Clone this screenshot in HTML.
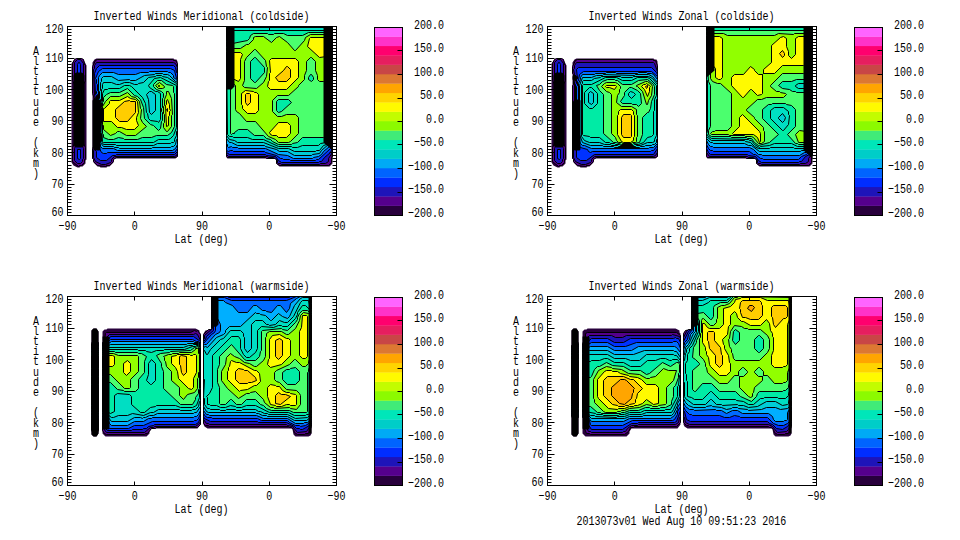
<!DOCTYPE html>
<html><head><meta charset="utf-8"><style>
html,body{margin:0;padding:0;background:#fff;width:960px;height:540px;overflow:hidden}
svg{display:block}
text{font-family:"Liberation Mono",monospace;font-size:13.3px;fill:#000}
</style></head><body>
<svg width="960" height="540" viewBox="0 0 960 540">
<rect width="960" height="540" fill="#fff"/>
<path d="M94.5 59.5L92.5 62.5L92.5 158.5L93.5 159.5L93.5 162.5L97.5 166.5L99.5 166.5L100.5 167.5L106.5 167.5L107.5 166.5L109.5 166.5L113.5 162.5L113.5 159.5L114.5 158.5L175.5 158.5L177.5 156.5L177.5 61.5L176.5 59.5L174.5 59.5L173.5 58.5L96.5 58.5ZM76.5 58.5L74.5 59.5L71.5 63.5L71.5 162.5L73.5 165.5L77.5 167.5L79.5 167.5L80.5 166.5L82.5 166.5L85.5 163.5L85.5 160.5L86.5 159.5L86.5 65.5L83.5 59.5L81.5 58.5ZM227.5 26.5L226.5 27.5L226.5 157.5L227.5 158.5L275.5 158.5L276.5 159.5L276.5 163.5L279.5 166.5L329.5 166.5L332.5 163.5L332.5 27.5L331.5 26.5Z" fill="#28003c" fill-rule="evenodd"/>
<path d="M95.5 60.5L92.5 66.5L92.5 93.5L95.5 101.5L95.5 142.5L92.5 148.5L92.5 158.5L93.5 159.5L93.5 161.5L97.5 165.5L105.5 166.5L106.5 165.5L109.5 165.5L113.5 161.5L113.5 159.5L116.5 157.5L175.5 157.5L177.5 156.5L177.5 63.5L175.5 60.5L173.5 60.5L172.5 59.5L97.5 59.5ZM81.5 58.5L76.5 58.5L74.5 59.5L72.5 63.5L72.5 80.5L75.5 86.5L75.5 141.5L72.5 147.5L72.5 161.5L78.5 166.5L79.5 165.5L81.5 165.5L84.5 162.5L84.5 159.5L85.5 158.5L85.5 147.5L82.5 141.5L82.5 86.5L85.5 80.5L85.5 65.5L84.5 64.5L83.5 59.5ZM227.5 26.5L226.5 27.5L226.5 156.5L227.5 157.5L265.5 157.5L266.5 158.5L275.5 158.5L276.5 159.5L276.5 163.5L279.5 165.5L328.5 165.5L331.5 162.5L331.5 157.5L332.5 156.5L332.5 27.5L331.5 26.5Z" fill="#55008c" fill-rule="evenodd" stroke="#000" stroke-width="1"/>
<path d="M77.5 145.5L75.5 146.5L74.5 148.5L74.5 160.5L77.5 163.5L80.5 163.5L82.5 161.5L82.5 159.5L83.5 158.5L83.5 148.5L82.5 146.5ZM96.5 62.5L94.5 65.5L94.5 68.5L93.5 69.5L94.5 95.5L96.5 100.5L96.5 144.5L93.5 150.5L93.5 157.5L95.5 161.5L101.5 164.5L105.5 164.5L110.5 162.5L111.5 161.5L111.5 159.5L114.5 156.5L174.5 156.5L176.5 155.5L177.5 153.5L177.5 67.5L175.5 63.5L173.5 62.5ZM77.5 59.5L74.5 62.5L74.5 79.5L75.5 81.5L80.5 82.5L82.5 81.5L83.5 79.5L83.5 63.5L80.5 59.5ZM227.5 26.5L226.5 27.5L226.5 154.5L228.5 156.5L267.5 156.5L268.5 157.5L273.5 157.5L277.5 160.5L277.5 162.5L278.5 163.5L280.5 163.5L281.5 164.5L319.5 164.5L320.5 163.5L325.5 163.5L328.5 161.5L328.5 158.5L332.5 152.5L332.5 27.5L331.5 26.5Z" fill="#1e14b9" fill-rule="evenodd" stroke="#000" stroke-width="1"/>
<path d="M77.5 149.5L77.5 158.5L79.5 159.5L80.5 158.5L80.5 149.5ZM99.5 65.5L96.5 68.5L94.5 73.5L95.5 94.5L96.5 95.5L96.5 99.5L97.5 100.5L97.5 109.5L96.5 110.5L96.5 117.5L97.5 118.5L97.5 146.5L95.5 150.5L96.5 151.5L96.5 157.5L100.5 160.5L106.5 160.5L112.5 155.5L115.5 155.5L116.5 154.5L174.5 154.5L177.5 151.5L177.5 73.5L176.5 72.5L175.5 67.5L173.5 65.5ZM78.5 62.5L77.5 64.5L77.5 78.5L80.5 78.5L80.5 64.5L79.5 62.5ZM227.5 26.5L226.5 27.5L226.5 152.5L229.5 154.5L265.5 154.5L266.5 155.5L275.5 156.5L278.5 160.5L281.5 162.5L318.5 162.5L319.5 161.5L321.5 161.5L324.5 157.5L330.5 152.5L332.5 147.5L332.5 27.5L331.5 26.5Z" fill="#0032ff" fill-rule="evenodd" stroke="#000" stroke-width="1"/>
<path d="M98.5 71.5L95.5 78.5L96.5 79.5L96.5 83.5L97.5 84.5L97.5 90.5L96.5 91.5L96.5 93.5L97.5 94.5L97.5 99.5L98.5 100.5L98.5 104.5L97.5 105.5L98.5 146.5L101.5 152.5L103.5 153.5L106.5 153.5L107.5 152.5L174.5 152.5L177.5 148.5L177.5 79.5L176.5 78.5L174.5 70.5L170.5 68.5L102.5 68.5ZM227.5 26.5L226.5 27.5L226.5 150.5L228.5 151.5L230.5 150.5L232.5 150.5L233.5 151.5L264.5 151.5L265.5 152.5L276.5 155.5L280.5 158.5L282.5 158.5L283.5 159.5L289.5 159.5L290.5 160.5L315.5 160.5L316.5 159.5L318.5 159.5L330.5 148.5L331.5 146.5L331.5 142.5L332.5 141.5L332.5 27.5L331.5 26.5Z" fill="#0069ff" fill-rule="evenodd" stroke="#000" stroke-width="1"/>
<path d="M170.5 72.5L168.5 72.5L167.5 71.5L149.5 71.5L148.5 72.5L140.5 72.5L135.5 74.5L118.5 74.5L113.5 72.5L102.5 72.5L99.5 75.5L98.5 77.5L98.5 99.5L99.5 100.5L99.5 103.5L98.5 104.5L98.5 130.5L99.5 131.5L99.5 143.5L100.5 144.5L100.5 146.5L102.5 148.5L113.5 148.5L117.5 150.5L172.5 150.5L175.5 148.5L177.5 144.5L177.5 81.5L176.5 79.5L173.5 77.5L173.5 75.5ZM227.5 26.5L226.5 27.5L226.5 143.5L227.5 144.5L227.5 146.5L228.5 147.5L231.5 146.5L232.5 147.5L237.5 147.5L238.5 148.5L265.5 148.5L278.5 154.5L287.5 155.5L293.5 158.5L312.5 158.5L313.5 157.5L318.5 156.5L321.5 154.5L323.5 151.5L329.5 146.5L330.5 142.5L332.5 139.5L332.5 27.5L331.5 26.5Z" fill="#00afff" fill-rule="evenodd" stroke="#000" stroke-width="1"/>
<path d="M176.5 81.5L175.5 81.5L169.5 75.5L167.5 74.5L163.5 74.5L162.5 73.5L155.5 73.5L154.5 74.5L144.5 75.5L135.5 80.5L130.5 80.5L129.5 79.5L118.5 80.5L111.5 76.5L103.5 76.5L101.5 78.5L101.5 81.5L100.5 82.5L100.5 90.5L99.5 91.5L99.5 98.5L100.5 99.5L100.5 102.5L99.5 103.5L99.5 131.5L100.5 132.5L100.5 142.5L103.5 146.5L113.5 146.5L114.5 147.5L118.5 147.5L119.5 148.5L151.5 148.5L152.5 147.5L170.5 147.5L171.5 146.5L173.5 146.5L175.5 144.5L176.5 139.5L177.5 138.5L177.5 83.5ZM227.5 26.5L226.5 27.5L226.5 138.5L229.5 142.5L231.5 142.5L237.5 145.5L264.5 145.5L265.5 146.5L276.5 149.5L279.5 151.5L287.5 151.5L294.5 155.5L311.5 155.5L312.5 154.5L319.5 153.5L321.5 150.5L329.5 143.5L332.5 137.5L332.5 27.5L331.5 26.5Z" fill="#00cdd7" fill-rule="evenodd" stroke="#000" stroke-width="1"/>
<path d="M176.5 83.5L167.5 77.5L162.5 76.5L161.5 75.5L156.5 75.5L155.5 76.5L148.5 77.5L143.5 82.5L138.5 83.5L137.5 84.5L134.5 84.5L129.5 82.5L124.5 82.5L119.5 84.5L116.5 84.5L111.5 82.5L103.5 82.5L102.5 84.5L102.5 88.5L101.5 89.5L101.5 101.5L100.5 102.5L100.5 109.5L99.5 110.5L99.5 117.5L100.5 118.5L100.5 132.5L101.5 133.5L101.5 141.5L103.5 144.5L115.5 144.5L116.5 145.5L153.5 145.5L157.5 143.5L170.5 143.5L171.5 142.5L173.5 142.5L174.5 141.5L174.5 139.5L176.5 135.5L176.5 131.5L177.5 130.5L177.5 85.5ZM149.5 91.5L151.5 91.5L155.5 94.5L155.5 110.5L151.5 114.5L149.5 112.5L148.5 99.5L146.5 94.5ZM228.5 27.5L227.5 28.5L227.5 40.5L226.5 41.5L226.5 135.5L229.5 139.5L234.5 140.5L237.5 142.5L263.5 142.5L278.5 148.5L288.5 148.5L294.5 151.5L315.5 151.5L316.5 150.5L319.5 150.5L323.5 145.5L326.5 144.5L328.5 142.5L332.5 134.5L332.5 31.5L331.5 30.5L331.5 28.5L330.5 27.5Z" fill="#00dec3" fill-rule="evenodd" stroke="#000" stroke-width="1"/>
<path d="M176.5 85.5L160.5 77.5L154.5 78.5L148.5 85.5L149.5 87.5L155.5 91.5L157.5 91.5L160.5 93.5L160.5 119.5L158.5 122.5L157.5 121.5L150.5 120.5L148.5 118.5L147.5 113.5L146.5 112.5L145.5 103.5L142.5 97.5L131.5 86.5L129.5 85.5L124.5 85.5L119.5 88.5L108.5 88.5L107.5 89.5L104.5 89.5L102.5 93.5L102.5 101.5L101.5 102.5L101.5 107.5L100.5 108.5L100.5 120.5L101.5 121.5L102.5 141.5L103.5 142.5L153.5 142.5L158.5 139.5L168.5 139.5L170.5 138.5L173.5 135.5L176.5 127.5ZM230.5 30.5L230.5 37.5L226.5 47.5L227.5 134.5L229.5 136.5L232.5 136.5L233.5 137.5L247.5 137.5L252.5 139.5L263.5 139.5L278.5 146.5L291.5 146.5L292.5 147.5L297.5 147.5L302.5 145.5L318.5 145.5L320.5 143.5L326.5 142.5L328.5 137.5L331.5 134.5L331.5 83.5L332.5 82.5L332.5 34.5L329.5 30.5Z" fill="#00eba5" fill-rule="evenodd" stroke="#000" stroke-width="1"/>
<path d="M173.5 86.5L172.5 85.5L166.5 84.5L161.5 80.5L157.5 80.5L153.5 84.5L153.5 86.5L156.5 89.5L161.5 91.5L163.5 93.5L163.5 97.5L162.5 98.5L162.5 107.5L161.5 108.5L161.5 111.5L162.5 112.5L162.5 120.5L161.5 121.5L160.5 128.5L158.5 130.5L153.5 125.5L150.5 124.5L144.5 118.5L143.5 107.5L140.5 99.5L137.5 96.5L134.5 95.5L127.5 88.5L119.5 92.5L110.5 92.5L106.5 94.5L103.5 97.5L103.5 101.5L102.5 102.5L102.5 106.5L101.5 107.5L101.5 123.5L102.5 124.5L102.5 133.5L103.5 134.5L103.5 137.5L108.5 139.5L113.5 139.5L118.5 137.5L123.5 138.5L124.5 139.5L137.5 139.5L142.5 137.5L151.5 137.5L156.5 135.5L167.5 135.5L171.5 132.5L174.5 126.5L174.5 93.5L173.5 92.5ZM328.5 32.5L308.5 32.5L302.5 35.5L287.5 35.5L283.5 33.5L274.5 33.5L273.5 34.5L268.5 34.5L267.5 33.5L253.5 33.5L250.5 35.5L249.5 38.5L247.5 40.5L232.5 43.5L228.5 47.5L226.5 51.5L226.5 74.5L227.5 75.5L227.5 80.5L230.5 86.5L230.5 133.5L231.5 134.5L232.5 133.5L234.5 133.5L234.5 132.5L238.5 129.5L247.5 129.5L254.5 135.5L263.5 135.5L266.5 138.5L270.5 139.5L272.5 141.5L278.5 144.5L291.5 144.5L292.5 143.5L297.5 142.5L302.5 137.5L323.5 137.5L324.5 136.5L326.5 136.5L328.5 134.5L328.5 86.5L331.5 79.5L331.5 59.5L332.5 58.5L332.5 36.5ZM276.5 110.5L276.5 101.5L278.5 99.5L288.5 99.5L291.5 102.5L281.5 111.5L278.5 112.5ZM310.5 74.5L311.5 74.5L313.5 77.5L313.5 79.5L311.5 81.5L308.5 79.5L308.5 77.5ZM254.5 57.5L255.5 57.5L264.5 67.5L264.5 72.5L255.5 82.5L254.5 82.5L250.5 78.5L250.5 61.5Z" fill="#4bff6e" fill-rule="evenodd" stroke="#000" stroke-width="1"/>
<path d="M127.5 92.5L119.5 96.5L110.5 96.5L105.5 101.5L102.5 106.5L102.5 124.5L103.5 125.5L103.5 129.5L110.5 135.5L115.5 133.5L117.5 131.5L119.5 131.5L126.5 135.5L135.5 135.5L146.5 126.5L142.5 122.5L140.5 118.5L141.5 109.5L140.5 108.5L139.5 101.5L135.5 97.5L131.5 96.5ZM168.5 91.5L166.5 91.5L166.5 94.5L164.5 99.5L164.5 105.5L163.5 106.5L163.5 113.5L164.5 114.5L164.5 122.5L163.5 123.5L163.5 127.5L166.5 131.5L167.5 131.5L171.5 126.5L171.5 115.5L172.5 114.5L171.5 98.5ZM155.5 85.5L158.5 88.5L162.5 88.5L164.5 87.5L164.5 86.5L159.5 82.5ZM329.5 35.5L327.5 35.5L326.5 34.5L310.5 34.5L305.5 37.5L304.5 40.5L295.5 50.5L294.5 50.5L287.5 42.5L279.5 36.5L276.5 37.5L271.5 42.5L263.5 36.5L255.5 36.5L253.5 37.5L253.5 39.5L248.5 44.5L246.5 44.5L240.5 48.5L233.5 48.5L232.5 49.5L230.5 49.5L227.5 53.5L227.5 71.5L228.5 72.5L228.5 77.5L229.5 78.5L229.5 80.5L235.5 85.5L235.5 109.5L236.5 111.5L239.5 113.5L246.5 121.5L255.5 121.5L268.5 136.5L275.5 139.5L278.5 142.5L288.5 142.5L290.5 141.5L298.5 133.5L298.5 117.5L295.5 114.5L286.5 114.5L281.5 116.5L277.5 116.5L272.5 111.5L272.5 100.5L277.5 95.5L288.5 95.5L298.5 86.5L298.5 85.5L304.5 79.5L304.5 75.5L306.5 70.5L306.5 61.5L310.5 57.5L311.5 57.5L315.5 61.5L315.5 70.5L317.5 75.5L317.5 79.5L319.5 81.5L323.5 81.5L324.5 80.5L326.5 80.5L328.5 78.5L328.5 62.5L331.5 55.5L331.5 37.5ZM255.5 49.5L265.5 60.5L266.5 66.5L267.5 67.5L266.5 76.5L263.5 82.5L256.5 88.5L244.5 87.5L242.5 85.5L244.5 80.5L244.5 61.5L246.5 57.5L254.5 49.5Z" fill="#91ff00" fill-rule="evenodd" stroke="#000" stroke-width="1"/>
<path d="M269.5 132.5L270.5 134.5L272.5 135.5L276.5 135.5L278.5 137.5L286.5 137.5L290.5 133.5L290.5 125.5L287.5 122.5L278.5 122.5ZM167.5 99.5L166.5 100.5L166.5 104.5L165.5 105.5L166.5 126.5L168.5 125.5L168.5 116.5L169.5 115.5L169.5 111.5L170.5 110.5L169.5 108.5L169.5 104.5ZM137.5 101.5L135.5 99.5L130.5 98.5L127.5 96.5L119.5 100.5L110.5 100.5L109.5 101.5L109.5 103.5L104.5 108.5L103.5 108.5L103.5 121.5L111.5 121.5L117.5 127.5L121.5 127.5L126.5 129.5L134.5 129.5L138.5 125.5L136.5 120.5L136.5 117.5L138.5 112.5ZM245.5 90.5L241.5 93.5L241.5 104.5L242.5 105.5L242.5 108.5L247.5 113.5L255.5 113.5L258.5 110.5L258.5 94.5L256.5 92.5L254.5 92.5L253.5 91.5ZM158.5 85.5L158.5 86.5L159.5 86.5L159.5 85.5ZM271.5 58.5L269.5 60.5L270.5 72.5L269.5 73.5L269.5 80.5L268.5 81.5L267.5 86.5L270.5 89.5L286.5 89.5L298.5 77.5L298.5 61.5L295.5 58.5ZM233.5 52.5L232.5 53.5L230.5 53.5L230.5 77.5L238.5 81.5L240.5 78.5L240.5 59.5L242.5 54.5L240.5 52.5ZM310.5 37.5L309.5 38.5L307.5 46.5L319.5 57.5L326.5 56.5L328.5 54.5L328.5 38.5L327.5 37.5Z" fill="#fffa00" fill-rule="evenodd" stroke="#000" stroke-width="1"/>
<path d="M167.5 108.5L166.5 109.5L167.5 111.5ZM135.5 101.5L130.5 101.5L129.5 100.5L124.5 101.5L115.5 109.5L115.5 117.5L119.5 121.5L127.5 121.5L135.5 112.5ZM249.5 93.5L246.5 93.5L245.5 94.5L245.5 102.5L247.5 105.5L250.5 102.5L250.5 94.5ZM287.5 66.5L286.5 66.5L283.5 70.5L275.5 77.5L278.5 81.5L286.5 81.5L290.5 77.5L290.5 69.5Z" fill="#ffcd00" fill-rule="evenodd" stroke="#000" stroke-width="1"/>
<path d="M94.5 98.5L92.5 100.5L92.5 147.5L94.5 150.5L99.5 150.5L100.5 149.5L100.5 100.5L99.5 99.5ZM76.5 72.5L74.5 73.5L73.5 75.5L73.5 144.5L74.5 146.5L76.5 147.5L81.5 147.5L83.5 146.5L84.5 144.5L84.5 75.5L83.5 73.5L81.5 72.5ZM323.5 26.5L323.5 142.5L331.5 149.5L331.5 158.5L332.5 159.5L332.5 27.5L331.5 26.5ZM227.5 26.5L226.5 27.5L226.5 89.5L231.5 89.5L234.5 86.5L234.5 26.5Z" fill="#000" fill-rule="evenodd"/>
<rect x="67.5" y="26.5" width="269" height="189" fill="none" stroke="#000" stroke-width="1"/>
<path d="M67.5 215.5h7M336.5 215.5h-7M67.5 212.5h4M336.5 212.5h-4M67.5 209.5h4M336.5 209.5h-4M67.5 206.5h4M336.5 206.5h-4M67.5 202.5h4M336.5 202.5h-4M67.5 199.5h4M336.5 199.5h-4M67.5 196.5h4M336.5 196.5h-4M67.5 193.5h4M336.5 193.5h-4M67.5 190.5h4M336.5 190.5h-4M67.5 187.5h4M336.5 187.5h-4M67.5 184.5h7M336.5 184.5h-7M67.5 180.5h4M336.5 180.5h-4M67.5 177.5h4M336.5 177.5h-4M67.5 174.5h4M336.5 174.5h-4M67.5 171.5h4M336.5 171.5h-4M67.5 168.5h4M336.5 168.5h-4M67.5 165.5h4M336.5 165.5h-4M67.5 161.5h4M336.5 161.5h-4M67.5 158.5h4M336.5 158.5h-4M67.5 155.5h4M336.5 155.5h-4M67.5 152.5h7M336.5 152.5h-7M67.5 149.5h4M336.5 149.5h-4M67.5 146.5h4M336.5 146.5h-4M67.5 143.5h4M336.5 143.5h-4M67.5 139.5h4M336.5 139.5h-4M67.5 136.5h4M336.5 136.5h-4M67.5 133.5h4M336.5 133.5h-4M67.5 130.5h4M336.5 130.5h-4M67.5 127.5h4M336.5 127.5h-4M67.5 124.5h4M336.5 124.5h-4M67.5 120.5h7M336.5 120.5h-7M67.5 117.5h4M336.5 117.5h-4M67.5 114.5h4M336.5 114.5h-4M67.5 111.5h4M336.5 111.5h-4M67.5 108.5h4M336.5 108.5h-4M67.5 105.5h4M336.5 105.5h-4M67.5 102.5h4M336.5 102.5h-4M67.5 98.5h4M336.5 98.5h-4M67.5 95.5h4M336.5 95.5h-4M67.5 92.5h4M336.5 92.5h-4M67.5 89.5h7M336.5 89.5h-7M67.5 86.5h4M336.5 86.5h-4M67.5 83.5h4M336.5 83.5h-4M67.5 80.5h4M336.5 80.5h-4M67.5 76.5h4M336.5 76.5h-4M67.5 73.5h4M336.5 73.5h-4M67.5 70.5h4M336.5 70.5h-4M67.5 67.5h4M336.5 67.5h-4M67.5 64.5h4M336.5 64.5h-4M67.5 61.5h4M336.5 61.5h-4M67.5 58.5h7M336.5 58.5h-7M67.5 54.5h4M336.5 54.5h-4M67.5 51.5h4M336.5 51.5h-4M67.5 48.5h4M336.5 48.5h-4M67.5 45.5h4M336.5 45.5h-4M67.5 42.5h4M336.5 42.5h-4M67.5 39.5h4M336.5 39.5h-4M67.5 35.5h4M336.5 35.5h-4M67.5 32.5h4M336.5 32.5h-4M67.5 29.5h4M336.5 29.5h-4M67.5 26.5h7M336.5 26.5h-7M67.5 215.5v-4M67.5 26.5v4M134.5 215.5v-4M134.5 26.5v4M202.5 215.5v-4M202.5 26.5v4M269.5 215.5v-4M269.5 26.5v4M336.5 215.5v-4M336.5 26.5v4" stroke="#000" stroke-width="1" fill="none"/>
<text transform="translate(63.5,215.5) scale(0.752,1)" text-anchor="end">60</text>
<text transform="translate(63.5,188.0) scale(0.752,1)" text-anchor="end">70</text>
<text transform="translate(63.5,156.5) scale(0.752,1)" text-anchor="end">80</text>
<text transform="translate(63.5,125.0) scale(0.752,1)" text-anchor="end">90</text>
<text transform="translate(63.5,93.5) scale(0.752,1)" text-anchor="end">100</text>
<text transform="translate(63.5,62.0) scale(0.752,1)" text-anchor="end">110</text>
<text transform="translate(63.5,33.0) scale(0.752,1)" text-anchor="end">120</text>
<text transform="translate(67.5,230) scale(0.752,1)" text-anchor="middle">−90</text>
<text transform="translate(134.75,230) scale(0.752,1)" text-anchor="middle">0</text>
<text transform="translate(202.0,230) scale(0.752,1)" text-anchor="middle">90</text>
<text transform="translate(269.25,230) scale(0.752,1)" text-anchor="middle">0</text>
<text transform="translate(336.5,230) scale(0.752,1)" text-anchor="middle">−90</text>
<text transform="translate(201.5,243) scale(0.752,1)" text-anchor="middle">Lat (deg)</text>
<text transform="translate(201.5,20) scale(0.752,1)" text-anchor="middle">Inverted Winds Meridional (coldside)</text>
<text transform="translate(36,54.5) scale(0.752,1)" text-anchor="middle">A</text>
<text transform="translate(36,64.7) scale(0.752,1)" text-anchor="middle">l</text>
<text transform="translate(36,74.9) scale(0.752,1)" text-anchor="middle">t</text>
<text transform="translate(36,85.1) scale(0.752,1)" text-anchor="middle">i</text>
<text transform="translate(36,95.3) scale(0.752,1)" text-anchor="middle">t</text>
<text transform="translate(36,105.5) scale(0.752,1)" text-anchor="middle">u</text>
<text transform="translate(36,115.69999999999999) scale(0.752,1)" text-anchor="middle">d</text>
<text transform="translate(36,125.89999999999999) scale(0.752,1)" text-anchor="middle">e</text>
<text transform="translate(36,146.3) scale(0.752,1)" text-anchor="middle">(</text>
<text transform="translate(36,156.5) scale(0.752,1)" text-anchor="middle">k</text>
<text transform="translate(36,166.7) scale(0.752,1)" text-anchor="middle">m</text>
<text transform="translate(36,176.89999999999998) scale(0.752,1)" text-anchor="middle">)</text>
<rect x="374" y="205.60" width="28" height="9.70" fill="#28003c"/>
<rect x="374" y="196.20" width="28" height="9.70" fill="#55008c"/>
<rect x="374" y="186.80" width="28" height="9.70" fill="#1e14b9"/>
<rect x="374" y="177.40" width="28" height="9.70" fill="#002dff"/>
<rect x="374" y="168.00" width="28" height="9.70" fill="#0064ff"/>
<rect x="374" y="158.60" width="28" height="9.70" fill="#00aaf5"/>
<rect x="374" y="149.20" width="28" height="9.70" fill="#00cdc8"/>
<rect x="374" y="139.80" width="28" height="9.70" fill="#00e6b9"/>
<rect x="374" y="130.40" width="28" height="9.70" fill="#41eb78"/>
<rect x="374" y="121.00" width="28" height="9.70" fill="#8cfa00"/>
<rect x="374" y="111.60" width="28" height="9.70" fill="#c3fc00"/>
<rect x="374" y="102.20" width="28" height="9.70" fill="#fffa00"/>
<rect x="374" y="92.80" width="28" height="9.70" fill="#ffd400"/>
<rect x="374" y="83.40" width="28" height="9.70" fill="#ffa500"/>
<rect x="374" y="74.00" width="28" height="9.70" fill="#dc7832"/>
<rect x="374" y="64.60" width="28" height="9.70" fill="#c84646"/>
<rect x="374" y="55.20" width="28" height="9.70" fill="#e61e5f"/>
<rect x="374" y="45.80" width="28" height="9.70" fill="#ff006e"/>
<rect x="374" y="36.40" width="28" height="9.70" fill="#ff32c8"/>
<rect x="374" y="27.00" width="28" height="9.70" fill="#ff64ff"/>
<rect x="374.5" y="27.5" width="28" height="188" fill="none" stroke="#000"/>
<path d="M402.5 50.5h-5M402.5 74.5h-5M402.5 98.5h-5M402.5 121.5h-5M402.5 144.5h-5M402.5 168.5h-5M402.5 192.5h-5" stroke="#000" fill="none"/>
<text transform="translate(444,28.8) scale(0.752,1)" text-anchor="end">200.0</text>
<text transform="translate(444,52.3) scale(0.752,1)" text-anchor="end">150.0</text>
<text transform="translate(444,75.8) scale(0.752,1)" text-anchor="end">100.0</text>
<text transform="translate(444,99.3) scale(0.752,1)" text-anchor="end">50.0</text>
<text transform="translate(444,122.8) scale(0.752,1)" text-anchor="end">0.0</text>
<text transform="translate(444,146.3) scale(0.752,1)" text-anchor="end">−50.0</text>
<text transform="translate(444,169.8) scale(0.752,1)" text-anchor="end">−100.0</text>
<text transform="translate(444,193.3) scale(0.752,1)" text-anchor="end">−150.0</text>
<text transform="translate(444,216.8) scale(0.752,1)" text-anchor="end">−200.0</text>
<path d="M574.5 59.5L572.5 62.5L572.5 158.5L573.5 159.5L573.5 162.5L577.5 166.5L579.5 166.5L580.5 167.5L586.5 167.5L587.5 166.5L589.5 166.5L593.5 162.5L593.5 159.5L594.5 158.5L655.5 158.5L657.5 156.5L657.5 61.5L656.5 59.5L654.5 59.5L653.5 58.5L576.5 58.5ZM556.5 58.5L554.5 59.5L551.5 63.5L551.5 162.5L553.5 165.5L557.5 167.5L559.5 167.5L560.5 166.5L562.5 166.5L565.5 163.5L565.5 160.5L566.5 159.5L566.5 65.5L563.5 59.5L561.5 58.5ZM707.5 26.5L706.5 27.5L706.5 157.5L707.5 158.5L755.5 158.5L756.5 159.5L756.5 163.5L759.5 166.5L809.5 166.5L812.5 163.5L812.5 27.5L811.5 26.5Z" fill="#28003c" fill-rule="evenodd"/>
<path d="M575.5 60.5L572.5 66.5L572.5 73.5L573.5 74.5L573.5 84.5L572.5 85.5L572.5 158.5L573.5 159.5L573.5 161.5L577.5 165.5L585.5 166.5L586.5 165.5L589.5 165.5L593.5 161.5L593.5 159.5L596.5 157.5L655.5 157.5L657.5 156.5L657.5 65.5L655.5 60.5L653.5 60.5L652.5 59.5L577.5 59.5ZM561.5 58.5L556.5 58.5L554.5 59.5L552.5 63.5L552.5 80.5L555.5 86.5L555.5 141.5L552.5 147.5L552.5 161.5L558.5 166.5L559.5 165.5L561.5 165.5L564.5 162.5L564.5 159.5L565.5 158.5L565.5 147.5L562.5 141.5L562.5 86.5L565.5 80.5L565.5 65.5L564.5 64.5L563.5 59.5ZM707.5 26.5L706.5 27.5L706.5 156.5L707.5 157.5L745.5 157.5L746.5 158.5L755.5 158.5L756.5 159.5L756.5 163.5L759.5 165.5L808.5 165.5L811.5 162.5L811.5 156.5L812.5 155.5L812.5 27.5L811.5 26.5Z" fill="#55008c" fill-rule="evenodd" stroke="#000" stroke-width="1"/>
<path d="M557.5 145.5L555.5 146.5L554.5 148.5L554.5 160.5L557.5 163.5L560.5 163.5L562.5 161.5L562.5 159.5L563.5 158.5L563.5 148.5L562.5 146.5ZM576.5 62.5L574.5 65.5L574.5 68.5L573.5 69.5L574.5 74.5L575.5 75.5L575.5 80.5L574.5 81.5L574.5 146.5L573.5 147.5L573.5 157.5L575.5 161.5L581.5 164.5L585.5 164.5L590.5 162.5L591.5 161.5L591.5 159.5L594.5 156.5L653.5 156.5L655.5 155.5L657.5 152.5L657.5 71.5L654.5 63.5L653.5 62.5ZM557.5 59.5L554.5 62.5L554.5 79.5L555.5 81.5L560.5 82.5L562.5 81.5L563.5 79.5L563.5 63.5L560.5 59.5ZM707.5 26.5L706.5 27.5L706.5 152.5L709.5 156.5L747.5 156.5L748.5 157.5L753.5 157.5L757.5 160.5L757.5 162.5L758.5 163.5L760.5 163.5L761.5 164.5L799.5 164.5L800.5 163.5L805.5 163.5L808.5 161.5L808.5 158.5L811.5 154.5L811.5 150.5L812.5 149.5L812.5 27.5L811.5 26.5Z" fill="#1e14b9" fill-rule="evenodd" stroke="#000" stroke-width="1"/>
<path d="M557.5 149.5L557.5 158.5L559.5 159.5L560.5 158.5L560.5 149.5ZM578.5 67.5L576.5 69.5L577.5 78.5L576.5 79.5L576.5 83.5L575.5 84.5L575.5 147.5L576.5 148.5L576.5 157.5L580.5 160.5L586.5 160.5L594.5 154.5L653.5 154.5L657.5 148.5L657.5 74.5L656.5 72.5L651.5 67.5ZM558.5 62.5L557.5 64.5L557.5 78.5L560.5 78.5L560.5 64.5L559.5 62.5ZM707.5 26.5L706.5 27.5L706.5 148.5L708.5 152.5L710.5 154.5L747.5 154.5L748.5 155.5L755.5 156.5L758.5 160.5L761.5 162.5L798.5 162.5L799.5 161.5L801.5 161.5L805.5 156.5L809.5 154.5L810.5 150.5L812.5 148.5L812.5 27.5L811.5 26.5Z" fill="#0032ff" fill-rule="evenodd" stroke="#000" stroke-width="1"/>
<path d="M579.5 74.5L578.5 80.5L577.5 81.5L577.5 85.5L576.5 86.5L576.5 134.5L577.5 135.5L577.5 143.5L580.5 147.5L587.5 149.5L588.5 151.5L590.5 152.5L592.5 151.5L650.5 151.5L651.5 150.5L653.5 150.5L657.5 145.5L657.5 76.5L651.5 71.5L583.5 71.5ZM707.5 26.5L706.5 27.5L706.5 144.5L708.5 148.5L710.5 150.5L712.5 150.5L713.5 151.5L749.5 151.5L753.5 154.5L755.5 154.5L760.5 158.5L762.5 158.5L763.5 159.5L798.5 159.5L801.5 156.5L806.5 154.5L812.5 147.5L812.5 27.5L811.5 26.5Z" fill="#0069ff" fill-rule="evenodd" stroke="#000" stroke-width="1"/>
<path d="M582.5 74.5L580.5 77.5L580.5 79.5L578.5 83.5L578.5 138.5L580.5 143.5L582.5 145.5L584.5 145.5L591.5 148.5L648.5 148.5L649.5 147.5L653.5 147.5L657.5 143.5L657.5 79.5L653.5 74.5L651.5 73.5L647.5 73.5L646.5 72.5L638.5 72.5L637.5 73.5L616.5 73.5L615.5 72.5L606.5 72.5L605.5 73.5L595.5 73.5L594.5 74.5ZM707.5 26.5L706.5 27.5L706.5 140.5L708.5 144.5L710.5 146.5L712.5 146.5L713.5 147.5L749.5 147.5L753.5 149.5L758.5 154.5L761.5 154.5L762.5 155.5L799.5 155.5L804.5 152.5L806.5 152.5L812.5 145.5L812.5 27.5L811.5 26.5Z" fill="#00afff" fill-rule="evenodd" stroke="#000" stroke-width="1"/>
<path d="M582.5 77.5L579.5 85.5L579.5 134.5L582.5 142.5L590.5 145.5L602.5 145.5L603.5 146.5L613.5 146.5L614.5 147.5L639.5 147.5L640.5 146.5L644.5 146.5L645.5 145.5L651.5 145.5L652.5 144.5L654.5 144.5L656.5 142.5L656.5 139.5L657.5 138.5L657.5 82.5L652.5 76.5L648.5 74.5L635.5 74.5L634.5 75.5L603.5 74.5L602.5 75.5L596.5 75.5L591.5 77.5ZM707.5 26.5L706.5 27.5L706.5 138.5L710.5 142.5L712.5 142.5L713.5 143.5L744.5 143.5L748.5 145.5L751.5 145.5L759.5 151.5L800.5 151.5L801.5 150.5L806.5 150.5L812.5 144.5L812.5 87.5L811.5 86.5L812.5 84.5L812.5 27.5L811.5 26.5Z" fill="#00cdd7" fill-rule="evenodd" stroke="#000" stroke-width="1"/>
<path d="M582.5 81.5L582.5 83.5L581.5 84.5L581.5 136.5L584.5 140.5L589.5 142.5L599.5 142.5L604.5 144.5L610.5 144.5L611.5 145.5L617.5 145.5L618.5 146.5L635.5 146.5L636.5 145.5L640.5 145.5L647.5 142.5L652.5 142.5L654.5 141.5L654.5 139.5L656.5 135.5L656.5 99.5L657.5 98.5L657.5 84.5L652.5 78.5L648.5 76.5L633.5 76.5L632.5 77.5L621.5 77.5L620.5 76.5L601.5 76.5L600.5 77.5L594.5 78.5L591.5 80.5L583.5 80.5ZM590.5 91.5L593.5 93.5L593.5 102.5L591.5 104.5L588.5 102.5L588.5 93.5ZM707.5 26.5L706.5 27.5L706.5 136.5L711.5 140.5L744.5 140.5L745.5 141.5L750.5 142.5L754.5 146.5L758.5 148.5L769.5 148.5L770.5 147.5L793.5 147.5L794.5 148.5L806.5 148.5L812.5 143.5L812.5 91.5L809.5 85.5L812.5 80.5L812.5 27.5L811.5 26.5ZM782.5 113.5L785.5 117.5L784.5 120.5L782.5 122.5L778.5 118.5L778.5 117.5Z" fill="#00dec3" fill-rule="evenodd" stroke="#000" stroke-width="1"/>
<path d="M582.5 85.5L582.5 134.5L583.5 135.5L589.5 136.5L590.5 137.5L599.5 137.5L605.5 142.5L609.5 142.5L610.5 143.5L614.5 143.5L615.5 144.5L619.5 144.5L620.5 145.5L633.5 145.5L634.5 144.5L638.5 144.5L643.5 142.5L647.5 137.5L651.5 136.5L653.5 134.5L653.5 111.5L654.5 110.5L654.5 99.5L656.5 95.5L656.5 85.5L649.5 78.5L647.5 77.5L637.5 77.5L631.5 80.5L622.5 80.5L616.5 77.5L605.5 77.5L591.5 84.5L583.5 84.5ZM630.5 91.5L633.5 92.5L635.5 94.5L631.5 98.5L628.5 95.5L628.5 93.5ZM589.5 87.5L591.5 87.5L597.5 93.5L597.5 103.5L592.5 108.5L589.5 108.5L584.5 103.5L584.5 92.5ZM708.5 27.5L706.5 31.5L706.5 79.5L707.5 80.5L707.5 131.5L706.5 133.5L707.5 135.5L711.5 138.5L748.5 139.5L749.5 140.5L751.5 140.5L754.5 144.5L759.5 147.5L760.5 146.5L769.5 145.5L774.5 143.5L791.5 143.5L797.5 146.5L806.5 146.5L812.5 142.5L812.5 129.5L811.5 128.5L811.5 93.5L808.5 89.5L806.5 89.5L805.5 88.5L798.5 88.5L795.5 86.5L795.5 85.5L798.5 83.5L805.5 83.5L806.5 82.5L808.5 82.5L811.5 78.5L811.5 75.5L812.5 74.5L812.5 31.5L811.5 30.5L811.5 28.5L810.5 27.5ZM774.5 107.5L783.5 107.5L788.5 111.5L788.5 114.5L789.5 115.5L788.5 124.5L783.5 130.5L782.5 130.5L770.5 118.5L770.5 110.5Z" fill="#00eba5" fill-rule="evenodd" stroke="#000" stroke-width="1"/>
<path d="M596.5 85.5L599.5 90.5L603.5 94.5L603.5 133.5L613.5 142.5L616.5 142.5L621.5 144.5L632.5 144.5L633.5 143.5L639.5 142.5L642.5 134.5L642.5 117.5L647.5 112.5L648.5 112.5L650.5 108.5L651.5 101.5L654.5 94.5L654.5 86.5L653.5 84.5L647.5 79.5L638.5 80.5L631.5 84.5L622.5 84.5L617.5 80.5L615.5 80.5L614.5 79.5L607.5 79.5L602.5 81.5L599.5 84.5ZM629.5 87.5L631.5 87.5L637.5 90.5L640.5 93.5L641.5 103.5L638.5 106.5L636.5 104.5L632.5 104.5L631.5 103.5L622.5 103.5L620.5 101.5L624.5 95.5L624.5 92.5ZM709.5 30.5L706.5 35.5L706.5 66.5L707.5 67.5L708.5 81.5L710.5 85.5L710.5 126.5L708.5 130.5L708.5 134.5L711.5 136.5L730.5 136.5L731.5 137.5L746.5 137.5L747.5 138.5L751.5 138.5L754.5 142.5L758.5 145.5L769.5 142.5L778.5 134.5L762.5 118.5L762.5 109.5L768.5 104.5L771.5 104.5L772.5 103.5L785.5 103.5L786.5 104.5L791.5 105.5L795.5 109.5L795.5 126.5L787.5 134.5L795.5 143.5L797.5 143.5L798.5 144.5L806.5 144.5L811.5 141.5L811.5 132.5L808.5 125.5L808.5 93.5L806.5 93.5L805.5 92.5L796.5 92.5L795.5 91.5L792.5 91.5L789.5 89.5L782.5 88.5L778.5 85.5L782.5 81.5L791.5 81.5L796.5 79.5L805.5 79.5L809.5 77.5L809.5 75.5L811.5 71.5L811.5 67.5L812.5 66.5L812.5 35.5L809.5 30.5Z" fill="#4bff6e" fill-rule="evenodd" stroke="#000" stroke-width="1"/>
<path d="M795.5 134.5L798.5 142.5L806.5 142.5L808.5 141.5L808.5 133.5L806.5 131.5L799.5 130.5ZM604.5 83.5L601.5 86.5L606.5 91.5L609.5 92.5L611.5 94.5L611.5 133.5L615.5 137.5L616.5 140.5L618.5 142.5L621.5 142.5L622.5 143.5L631.5 143.5L632.5 142.5L635.5 142.5L636.5 141.5L636.5 137.5L637.5 136.5L637.5 115.5L636.5 114.5L636.5 109.5L631.5 106.5L621.5 106.5L616.5 102.5L617.5 95.5L619.5 92.5L619.5 89.5L620.5 88.5L620.5 86.5L617.5 83.5L615.5 82.5L606.5 82.5ZM645.5 81.5L636.5 85.5L636.5 86.5L637.5 86.5L642.5 91.5L646.5 104.5L647.5 104.5L648.5 100.5L651.5 95.5L652.5 86.5L651.5 84.5L647.5 81.5ZM710.5 33.5L707.5 37.5L707.5 63.5L710.5 70.5L710.5 78.5L712.5 81.5L717.5 83.5L720.5 83.5L731.5 93.5L731.5 126.5L727.5 130.5L715.5 130.5L714.5 131.5L712.5 131.5L710.5 133.5L711.5 134.5L728.5 134.5L729.5 135.5L744.5 135.5L745.5 136.5L751.5 136.5L753.5 137.5L758.5 143.5L761.5 143.5L764.5 141.5L764.5 131.5L763.5 130.5L763.5 127.5L754.5 118.5L754.5 117.5L746.5 110.5L746.5 109.5L757.5 99.5L761.5 99.5L766.5 97.5L783.5 97.5L786.5 94.5L785.5 93.5L780.5 92.5L779.5 91.5L776.5 91.5L770.5 86.5L770.5 85.5L782.5 73.5L803.5 73.5L804.5 72.5L806.5 72.5L809.5 69.5L809.5 67.5L811.5 63.5L811.5 37.5L808.5 33.5L794.5 33.5L793.5 34.5L778.5 33.5L774.5 35.5L727.5 35.5L723.5 33.5Z" fill="#91ff00" fill-rule="evenodd" stroke="#000" stroke-width="1"/>
<path d="M742.5 114.5L739.5 117.5L739.5 126.5L732.5 133.5L733.5 134.5L753.5 134.5L757.5 137.5L759.5 142.5L760.5 141.5L760.5 133.5L759.5 131.5ZM620.5 109.5L618.5 111.5L618.5 114.5L617.5 115.5L617.5 134.5L621.5 141.5L623.5 142.5L630.5 142.5L633.5 140.5L633.5 137.5L634.5 136.5L634.5 115.5L633.5 114.5L633.5 111.5L631.5 109.5ZM605.5 86.5L606.5 87.5L609.5 87.5L614.5 89.5L616.5 86.5L615.5 85.5L606.5 85.5ZM646.5 83.5L645.5 84.5L643.5 84.5L641.5 86.5L644.5 89.5L647.5 96.5L649.5 91.5L649.5 87.5L650.5 86.5ZM808.5 37.5L806.5 37.5L805.5 36.5L798.5 36.5L795.5 38.5L795.5 54.5L791.5 58.5L788.5 55.5L788.5 51.5L786.5 46.5L786.5 38.5L783.5 36.5L780.5 37.5L771.5 45.5L771.5 62.5L763.5 69.5L763.5 73.5L762.5 74.5L758.5 74.5L754.5 70.5L754.5 69.5L750.5 66.5L743.5 74.5L734.5 74.5L731.5 77.5L731.5 85.5L742.5 97.5L743.5 97.5L750.5 89.5L751.5 89.5L757.5 95.5L761.5 94.5L762.5 93.5L762.5 74.5L763.5 73.5L774.5 73.5L782.5 65.5L803.5 65.5L804.5 64.5L806.5 64.5L808.5 62.5ZM713.5 36.5L712.5 37.5L710.5 37.5L710.5 62.5L715.5 68.5L715.5 77.5L718.5 79.5L720.5 79.5L722.5 77.5L722.5 38.5L719.5 36.5Z" fill="#fffa00" fill-rule="evenodd" stroke="#000" stroke-width="1"/>
<path d="M623.5 114.5L621.5 117.5L621.5 134.5L623.5 137.5L630.5 137.5L631.5 136.5L631.5 115.5L630.5 114.5ZM647.5 85.5L645.5 86.5L646.5 88.5L647.5 87.5ZM782.5 50.5L779.5 53.5L782.5 57.5L784.5 55.5L784.5 53.5Z" fill="#ffcd00" fill-rule="evenodd" stroke="#000" stroke-width="1"/>
<path d="M574.5 99.5L572.5 102.5L572.5 147.5L574.5 150.5L579.5 150.5L580.5 149.5L580.5 100.5L579.5 99.5ZM574.5 74.5L572.5 76.5L572.5 79.5L575.5 81.5L578.5 77.5ZM556.5 72.5L554.5 73.5L553.5 75.5L553.5 144.5L554.5 146.5L556.5 147.5L561.5 147.5L563.5 146.5L564.5 144.5L564.5 75.5L563.5 73.5L561.5 72.5ZM803.5 26.5L803.5 150.5L807.5 153.5L812.5 159.5L812.5 27.5L811.5 26.5ZM714.5 26.5L707.5 26.5L706.5 27.5L706.5 78.5L706.5 77.5L714.5 70.5Z" fill="#000" fill-rule="evenodd"/>
<rect x="547.5" y="26.5" width="269" height="189" fill="none" stroke="#000" stroke-width="1"/>
<path d="M547.5 215.5h7M816.5 215.5h-7M547.5 212.5h4M816.5 212.5h-4M547.5 209.5h4M816.5 209.5h-4M547.5 206.5h4M816.5 206.5h-4M547.5 202.5h4M816.5 202.5h-4M547.5 199.5h4M816.5 199.5h-4M547.5 196.5h4M816.5 196.5h-4M547.5 193.5h4M816.5 193.5h-4M547.5 190.5h4M816.5 190.5h-4M547.5 187.5h4M816.5 187.5h-4M547.5 184.5h7M816.5 184.5h-7M547.5 180.5h4M816.5 180.5h-4M547.5 177.5h4M816.5 177.5h-4M547.5 174.5h4M816.5 174.5h-4M547.5 171.5h4M816.5 171.5h-4M547.5 168.5h4M816.5 168.5h-4M547.5 165.5h4M816.5 165.5h-4M547.5 161.5h4M816.5 161.5h-4M547.5 158.5h4M816.5 158.5h-4M547.5 155.5h4M816.5 155.5h-4M547.5 152.5h7M816.5 152.5h-7M547.5 149.5h4M816.5 149.5h-4M547.5 146.5h4M816.5 146.5h-4M547.5 143.5h4M816.5 143.5h-4M547.5 139.5h4M816.5 139.5h-4M547.5 136.5h4M816.5 136.5h-4M547.5 133.5h4M816.5 133.5h-4M547.5 130.5h4M816.5 130.5h-4M547.5 127.5h4M816.5 127.5h-4M547.5 124.5h4M816.5 124.5h-4M547.5 120.5h7M816.5 120.5h-7M547.5 117.5h4M816.5 117.5h-4M547.5 114.5h4M816.5 114.5h-4M547.5 111.5h4M816.5 111.5h-4M547.5 108.5h4M816.5 108.5h-4M547.5 105.5h4M816.5 105.5h-4M547.5 102.5h4M816.5 102.5h-4M547.5 98.5h4M816.5 98.5h-4M547.5 95.5h4M816.5 95.5h-4M547.5 92.5h4M816.5 92.5h-4M547.5 89.5h7M816.5 89.5h-7M547.5 86.5h4M816.5 86.5h-4M547.5 83.5h4M816.5 83.5h-4M547.5 80.5h4M816.5 80.5h-4M547.5 76.5h4M816.5 76.5h-4M547.5 73.5h4M816.5 73.5h-4M547.5 70.5h4M816.5 70.5h-4M547.5 67.5h4M816.5 67.5h-4M547.5 64.5h4M816.5 64.5h-4M547.5 61.5h4M816.5 61.5h-4M547.5 58.5h7M816.5 58.5h-7M547.5 54.5h4M816.5 54.5h-4M547.5 51.5h4M816.5 51.5h-4M547.5 48.5h4M816.5 48.5h-4M547.5 45.5h4M816.5 45.5h-4M547.5 42.5h4M816.5 42.5h-4M547.5 39.5h4M816.5 39.5h-4M547.5 35.5h4M816.5 35.5h-4M547.5 32.5h4M816.5 32.5h-4M547.5 29.5h4M816.5 29.5h-4M547.5 26.5h7M816.5 26.5h-7M547.5 215.5v-4M547.5 26.5v4M614.5 215.5v-4M614.5 26.5v4M682.5 215.5v-4M682.5 26.5v4M749.5 215.5v-4M749.5 26.5v4M816.5 215.5v-4M816.5 26.5v4" stroke="#000" stroke-width="1" fill="none"/>
<text transform="translate(543.5,215.5) scale(0.752,1)" text-anchor="end">60</text>
<text transform="translate(543.5,188.0) scale(0.752,1)" text-anchor="end">70</text>
<text transform="translate(543.5,156.5) scale(0.752,1)" text-anchor="end">80</text>
<text transform="translate(543.5,125.0) scale(0.752,1)" text-anchor="end">90</text>
<text transform="translate(543.5,93.5) scale(0.752,1)" text-anchor="end">100</text>
<text transform="translate(543.5,62.0) scale(0.752,1)" text-anchor="end">110</text>
<text transform="translate(543.5,33.0) scale(0.752,1)" text-anchor="end">120</text>
<text transform="translate(547.5,230) scale(0.752,1)" text-anchor="middle">−90</text>
<text transform="translate(614.75,230) scale(0.752,1)" text-anchor="middle">0</text>
<text transform="translate(682.0,230) scale(0.752,1)" text-anchor="middle">90</text>
<text transform="translate(749.25,230) scale(0.752,1)" text-anchor="middle">0</text>
<text transform="translate(816.5,230) scale(0.752,1)" text-anchor="middle">−90</text>
<text transform="translate(681.5,243) scale(0.752,1)" text-anchor="middle">Lat (deg)</text>
<text transform="translate(681.5,20) scale(0.752,1)" text-anchor="middle">Inverted Winds Zonal (coldside)</text>
<text transform="translate(516,54.5) scale(0.752,1)" text-anchor="middle">A</text>
<text transform="translate(516,64.7) scale(0.752,1)" text-anchor="middle">l</text>
<text transform="translate(516,74.9) scale(0.752,1)" text-anchor="middle">t</text>
<text transform="translate(516,85.1) scale(0.752,1)" text-anchor="middle">i</text>
<text transform="translate(516,95.3) scale(0.752,1)" text-anchor="middle">t</text>
<text transform="translate(516,105.5) scale(0.752,1)" text-anchor="middle">u</text>
<text transform="translate(516,115.69999999999999) scale(0.752,1)" text-anchor="middle">d</text>
<text transform="translate(516,125.89999999999999) scale(0.752,1)" text-anchor="middle">e</text>
<text transform="translate(516,146.3) scale(0.752,1)" text-anchor="middle">(</text>
<text transform="translate(516,156.5) scale(0.752,1)" text-anchor="middle">k</text>
<text transform="translate(516,166.7) scale(0.752,1)" text-anchor="middle">m</text>
<text transform="translate(516,176.89999999999998) scale(0.752,1)" text-anchor="middle">)</text>
<rect x="854" y="205.60" width="28" height="9.70" fill="#28003c"/>
<rect x="854" y="196.20" width="28" height="9.70" fill="#55008c"/>
<rect x="854" y="186.80" width="28" height="9.70" fill="#1e14b9"/>
<rect x="854" y="177.40" width="28" height="9.70" fill="#002dff"/>
<rect x="854" y="168.00" width="28" height="9.70" fill="#0064ff"/>
<rect x="854" y="158.60" width="28" height="9.70" fill="#00aaf5"/>
<rect x="854" y="149.20" width="28" height="9.70" fill="#00cdc8"/>
<rect x="854" y="139.80" width="28" height="9.70" fill="#00e6b9"/>
<rect x="854" y="130.40" width="28" height="9.70" fill="#41eb78"/>
<rect x="854" y="121.00" width="28" height="9.70" fill="#8cfa00"/>
<rect x="854" y="111.60" width="28" height="9.70" fill="#c3fc00"/>
<rect x="854" y="102.20" width="28" height="9.70" fill="#fffa00"/>
<rect x="854" y="92.80" width="28" height="9.70" fill="#ffd400"/>
<rect x="854" y="83.40" width="28" height="9.70" fill="#ffa500"/>
<rect x="854" y="74.00" width="28" height="9.70" fill="#dc7832"/>
<rect x="854" y="64.60" width="28" height="9.70" fill="#c84646"/>
<rect x="854" y="55.20" width="28" height="9.70" fill="#e61e5f"/>
<rect x="854" y="45.80" width="28" height="9.70" fill="#ff006e"/>
<rect x="854" y="36.40" width="28" height="9.70" fill="#ff32c8"/>
<rect x="854" y="27.00" width="28" height="9.70" fill="#ff64ff"/>
<rect x="854.5" y="27.5" width="28" height="188" fill="none" stroke="#000"/>
<path d="M882.5 50.5h-5M882.5 74.5h-5M882.5 98.5h-5M882.5 121.5h-5M882.5 144.5h-5M882.5 168.5h-5M882.5 192.5h-5" stroke="#000" fill="none"/>
<text transform="translate(924,28.8) scale(0.752,1)" text-anchor="end">200.0</text>
<text transform="translate(924,52.3) scale(0.752,1)" text-anchor="end">150.0</text>
<text transform="translate(924,75.8) scale(0.752,1)" text-anchor="end">100.0</text>
<text transform="translate(924,99.3) scale(0.752,1)" text-anchor="end">50.0</text>
<text transform="translate(924,122.8) scale(0.752,1)" text-anchor="end">0.0</text>
<text transform="translate(924,146.3) scale(0.752,1)" text-anchor="end">−50.0</text>
<text transform="translate(924,169.8) scale(0.752,1)" text-anchor="end">−100.0</text>
<text transform="translate(924,193.3) scale(0.752,1)" text-anchor="end">−150.0</text>
<text transform="translate(924,216.8) scale(0.752,1)" text-anchor="end">−200.0</text>
<path d="M104.5 329.5L102.5 331.5L102.5 433.5L105.5 436.5L146.5 436.5L149.5 433.5L149.5 431.5L151.5 428.5L197.5 428.5L200.5 424.5L200.5 333.5L199.5 332.5L199.5 330.5L195.5 328.5L107.5 328.5L106.5 329.5ZM93.5 328.5L91.5 330.5L91.5 434.5L93.5 436.5L96.5 436.5L98.5 433.5L98.5 331.5L96.5 328.5ZM211.5 296.5L211.5 328.5L210.5 329.5L205.5 330.5L203.5 333.5L203.5 424.5L204.5 426.5L207.5 428.5L291.5 428.5L292.5 429.5L293.5 434.5L295.5 436.5L308.5 436.5L310.5 435.5L311.5 433.5L311.5 296.5Z" fill="#28003c" fill-rule="evenodd"/>
<path d="M94.5 340.5L92.5 341.5L91.5 343.5L91.5 430.5L93.5 433.5L96.5 433.5L98.5 430.5L98.5 342.5L96.5 340.5ZM197.5 330.5L196.5 331.5L194.5 330.5L190.5 332.5L106.5 332.5L105.5 333.5L104.5 340.5L102.5 342.5L102.5 430.5L104.5 433.5L106.5 434.5L144.5 434.5L145.5 433.5L147.5 433.5L151.5 428.5L155.5 428.5L156.5 427.5L197.5 427.5L200.5 424.5L200.5 334.5ZM211.5 296.5L211.5 328.5L210.5 329.5L208.5 329.5L203.5 334.5L203.5 423.5L205.5 425.5L208.5 425.5L209.5 426.5L288.5 426.5L289.5 427.5L291.5 427.5L293.5 429.5L294.5 432.5L297.5 434.5L304.5 434.5L305.5 433.5L308.5 433.5L311.5 426.5L311.5 296.5Z" fill="#55008c" fill-rule="evenodd" stroke="#000" stroke-width="1"/>
<path d="M95.5 341.5L92.5 343.5L92.5 345.5L91.5 346.5L91.5 418.5L92.5 419.5L92.5 428.5L94.5 431.5L95.5 431.5L97.5 428.5L97.5 419.5L98.5 418.5L98.5 343.5ZM197.5 334.5L195.5 333.5L193.5 334.5L109.5 334.5L106.5 337.5L106.5 339.5L102.5 343.5L102.5 418.5L103.5 419.5L103.5 428.5L106.5 432.5L144.5 432.5L150.5 427.5L153.5 427.5L154.5 426.5L195.5 426.5L199.5 423.5L200.5 421.5L200.5 340.5ZM211.5 296.5L211.5 320.5L212.5 321.5L212.5 328.5L204.5 335.5L204.5 338.5L203.5 339.5L203.5 419.5L206.5 423.5L208.5 423.5L209.5 424.5L286.5 424.5L287.5 425.5L292.5 426.5L297.5 432.5L306.5 431.5L311.5 424.5L311.5 296.5Z" fill="#1e14b9" fill-rule="evenodd" stroke="#000" stroke-width="1"/>
<path d="M96.5 343.5L94.5 343.5L92.5 345.5L92.5 347.5L91.5 348.5L91.5 415.5L94.5 419.5L98.5 417.5L98.5 344.5ZM102.5 344.5L102.5 417.5L104.5 419.5L105.5 428.5L107.5 430.5L131.5 430.5L132.5 429.5L142.5 429.5L143.5 428.5L146.5 428.5L148.5 426.5L153.5 425.5L154.5 424.5L195.5 424.5L198.5 422.5L200.5 417.5L200.5 341.5L193.5 336.5L110.5 336.5L108.5 339.5L103.5 344.5ZM211.5 296.5L211.5 311.5L212.5 312.5L212.5 319.5L213.5 320.5L213.5 330.5L206.5 336.5L205.5 339.5L203.5 341.5L203.5 416.5L204.5 418.5L210.5 421.5L257.5 421.5L258.5 422.5L286.5 422.5L294.5 426.5L296.5 428.5L299.5 428.5L300.5 429.5L302.5 429.5L309.5 425.5L311.5 422.5L311.5 296.5L290.5 296.5L289.5 297.5L228.5 297.5L227.5 296.5Z" fill="#0032ff" fill-rule="evenodd" stroke="#000" stroke-width="1"/>
<path d="M94.5 344.5L91.5 349.5L91.5 412.5L92.5 413.5L92.5 415.5L94.5 417.5L96.5 417.5L98.5 415.5L98.5 346.5L96.5 344.5ZM102.5 346.5L102.5 415.5L106.5 420.5L107.5 426.5L109.5 428.5L128.5 428.5L134.5 425.5L143.5 425.5L152.5 421.5L193.5 421.5L194.5 420.5L196.5 420.5L198.5 418.5L200.5 413.5L200.5 343.5L198.5 341.5L196.5 341.5L192.5 339.5L110.5 339.5ZM311.5 296.5L296.5 296.5L286.5 300.5L231.5 300.5L224.5 297.5L212.5 297.5L212.5 309.5L213.5 310.5L213.5 316.5L214.5 317.5L214.5 321.5L215.5 322.5L215.5 330.5L214.5 332.5L211.5 334.5L203.5 343.5L203.5 413.5L205.5 416.5L207.5 417.5L211.5 417.5L212.5 418.5L257.5 418.5L261.5 420.5L287.5 420.5L289.5 422.5L295.5 425.5L299.5 425.5L300.5 426.5L305.5 425.5L310.5 422.5L311.5 420.5Z" fill="#0069ff" fill-rule="evenodd" stroke="#000" stroke-width="1"/>
<path d="M95.5 345.5L91.5 350.5L91.5 409.5L92.5 410.5L92.5 413.5L95.5 416.5L98.5 414.5L98.5 347.5ZM102.5 347.5L102.5 414.5L108.5 420.5L109.5 423.5L111.5 425.5L127.5 425.5L134.5 421.5L143.5 421.5L148.5 418.5L151.5 418.5L152.5 417.5L193.5 417.5L194.5 416.5L196.5 416.5L198.5 414.5L200.5 410.5L200.5 344.5L198.5 342.5L194.5 342.5L193.5 341.5L111.5 341.5ZM311.5 296.5L300.5 296.5L296.5 298.5L290.5 303.5L289.5 308.5L286.5 312.5L280.5 305.5L277.5 305.5L271.5 312.5L266.5 311.5L265.5 310.5L262.5 310.5L256.5 305.5L253.5 305.5L247.5 312.5L238.5 312.5L232.5 305.5L225.5 302.5L223.5 300.5L215.5 300.5L215.5 316.5L217.5 318.5L220.5 324.5L220.5 330.5L219.5 332.5L215.5 334.5L206.5 344.5L204.5 344.5L203.5 345.5L203.5 410.5L206.5 414.5L208.5 414.5L209.5 415.5L256.5 415.5L263.5 418.5L287.5 418.5L295.5 423.5L303.5 423.5L304.5 422.5L307.5 422.5L310.5 420.5L311.5 418.5Z" fill="#00afff" fill-rule="evenodd" stroke="#000" stroke-width="1"/>
<path d="M94.5 347.5L91.5 352.5L91.5 405.5L92.5 406.5L92.5 409.5L94.5 414.5L96.5 414.5L98.5 412.5L98.5 349.5L96.5 347.5ZM200.5 345.5L198.5 343.5L187.5 343.5L186.5 344.5L110.5 344.5L104.5 347.5L102.5 349.5L102.5 412.5L106.5 416.5L107.5 416.5L111.5 421.5L127.5 421.5L134.5 417.5L140.5 417.5L142.5 418.5L143.5 417.5L145.5 417.5L149.5 415.5L153.5 415.5L157.5 413.5L193.5 413.5L194.5 412.5L196.5 412.5L200.5 406.5ZM310.5 297.5L302.5 297.5L300.5 298.5L294.5 305.5L289.5 316.5L287.5 318.5L282.5 316.5L278.5 313.5L271.5 320.5L270.5 320.5L265.5 315.5L260.5 314.5L259.5 313.5L256.5 313.5L255.5 312.5L240.5 326.5L229.5 326.5L225.5 330.5L225.5 332.5L223.5 334.5L216.5 337.5L207.5 347.5L205.5 346.5L203.5 347.5L203.5 406.5L206.5 411.5L208.5 412.5L255.5 412.5L256.5 413.5L258.5 413.5L262.5 415.5L266.5 415.5L267.5 416.5L287.5 416.5L294.5 420.5L306.5 420.5L310.5 417.5L311.5 415.5L311.5 303.5L310.5 302.5Z" fill="#00cdd7" fill-rule="evenodd" stroke="#000" stroke-width="1"/>
<path d="M95.5 348.5L91.5 353.5L91.5 384.5L92.5 385.5L92.5 404.5L93.5 405.5L93.5 409.5L95.5 413.5L97.5 411.5L97.5 385.5L98.5 384.5L98.5 351.5L97.5 349.5ZM200.5 346.5L198.5 344.5L193.5 344.5L192.5 345.5L188.5 345.5L183.5 347.5L108.5 347.5L103.5 349.5L102.5 351.5L103.5 411.5L111.5 417.5L113.5 417.5L118.5 415.5L127.5 415.5L132.5 413.5L143.5 415.5L150.5 412.5L153.5 412.5L158.5 409.5L179.5 409.5L180.5 410.5L191.5 410.5L192.5 409.5L195.5 409.5L198.5 406.5L199.5 401.5L200.5 400.5ZM308.5 300.5L302.5 300.5L300.5 302.5L293.5 316.5L287.5 322.5L284.5 322.5L279.5 320.5L275.5 324.5L269.5 325.5L268.5 324.5L266.5 324.5L262.5 320.5L255.5 320.5L251.5 324.5L251.5 348.5L247.5 352.5L244.5 348.5L244.5 337.5L243.5 336.5L243.5 333.5L240.5 330.5L230.5 330.5L223.5 338.5L220.5 339.5L210.5 349.5L207.5 354.5L206.5 354.5L204.5 350.5L203.5 350.5L203.5 378.5L204.5 379.5L203.5 397.5L204.5 398.5L204.5 404.5L207.5 408.5L209.5 408.5L210.5 409.5L219.5 409.5L220.5 410.5L225.5 410.5L226.5 409.5L235.5 409.5L236.5 410.5L241.5 410.5L242.5 409.5L255.5 409.5L258.5 411.5L260.5 411.5L264.5 413.5L267.5 413.5L268.5 414.5L287.5 414.5L295.5 418.5L307.5 417.5L311.5 413.5L311.5 309.5L310.5 308.5Z" fill="#00dec3" fill-rule="evenodd" stroke="#000" stroke-width="1"/>
<path d="M95.5 350.5L91.5 354.5L91.5 376.5L92.5 377.5L92.5 381.5L93.5 382.5L94.5 387.5L95.5 387.5L95.5 385.5L97.5 381.5L97.5 377.5L98.5 376.5L98.5 353.5L97.5 351.5ZM200.5 347.5L198.5 345.5L196.5 345.5L195.5 346.5L192.5 346.5L184.5 349.5L164.5 349.5L163.5 350.5L156.5 350.5L151.5 352.5L146.5 351.5L145.5 350.5L138.5 350.5L137.5 349.5L107.5 349.5L103.5 351.5L102.5 353.5L102.5 376.5L103.5 377.5L103.5 381.5L106.5 388.5L106.5 411.5L110.5 413.5L114.5 411.5L114.5 395.5L117.5 393.5L129.5 394.5L131.5 396.5L131.5 404.5L140.5 412.5L144.5 412.5L150.5 407.5L155.5 406.5L156.5 405.5L175.5 405.5L180.5 407.5L192.5 407.5L196.5 405.5L199.5 397.5L199.5 389.5L200.5 388.5ZM151.5 359.5L155.5 363.5L155.5 380.5L151.5 384.5L150.5 384.5L146.5 380.5L148.5 374.5L148.5 363.5ZM310.5 310.5L305.5 305.5L302.5 305.5L297.5 312.5L297.5 314.5L295.5 318.5L287.5 326.5L282.5 326.5L281.5 325.5L278.5 325.5L273.5 327.5L261.5 326.5L257.5 330.5L257.5 348.5L255.5 352.5L249.5 357.5L246.5 357.5L243.5 354.5L240.5 348.5L240.5 339.5L238.5 336.5L231.5 336.5L212.5 355.5L212.5 387.5L209.5 393.5L206.5 396.5L207.5 397.5L207.5 404.5L209.5 404.5L210.5 405.5L216.5 405.5L220.5 407.5L225.5 407.5L230.5 405.5L235.5 406.5L236.5 407.5L241.5 407.5L246.5 405.5L255.5 405.5L269.5 412.5L288.5 412.5L294.5 415.5L305.5 415.5L306.5 414.5L308.5 414.5L310.5 412.5L310.5 369.5L311.5 368.5L311.5 312.5Z" fill="#00eba5" fill-rule="evenodd" stroke="#000" stroke-width="1"/>
<path d="M94.5 352.5L91.5 355.5L91.5 368.5L92.5 369.5L92.5 373.5L93.5 374.5L94.5 379.5L95.5 379.5L95.5 377.5L97.5 373.5L97.5 369.5L98.5 368.5L98.5 355.5L97.5 353.5ZM103.5 353.5L102.5 355.5L102.5 368.5L103.5 369.5L103.5 373.5L104.5 374.5L105.5 379.5L108.5 382.5L110.5 382.5L117.5 389.5L123.5 390.5L124.5 391.5L135.5 391.5L138.5 388.5L138.5 379.5L144.5 372.5L144.5 361.5L146.5 356.5L141.5 353.5L138.5 353.5L137.5 352.5L115.5 352.5L114.5 351.5L107.5 351.5ZM198.5 346.5L194.5 347.5L190.5 350.5L170.5 351.5L169.5 352.5L160.5 353.5L156.5 355.5L161.5 363.5L161.5 366.5L163.5 371.5L163.5 388.5L180.5 404.5L192.5 404.5L195.5 399.5L195.5 397.5L198.5 393.5L198.5 389.5L199.5 388.5L199.5 347.5ZM307.5 310.5L302.5 310.5L299.5 313.5L297.5 317.5L297.5 319.5L295.5 322.5L287.5 330.5L282.5 329.5L281.5 328.5L262.5 330.5L261.5 331.5L261.5 350.5L260.5 351.5L259.5 356.5L255.5 360.5L246.5 360.5L244.5 359.5L231.5 344.5L219.5 356.5L219.5 364.5L217.5 369.5L217.5 382.5L219.5 387.5L219.5 403.5L220.5 404.5L225.5 404.5L230.5 399.5L231.5 399.5L236.5 404.5L241.5 404.5L246.5 399.5L255.5 399.5L260.5 404.5L263.5 405.5L266.5 408.5L271.5 410.5L289.5 410.5L293.5 412.5L306.5 412.5L307.5 411.5L307.5 372.5L308.5 371.5L308.5 369.5L310.5 365.5L310.5 361.5L311.5 360.5L311.5 314.5ZM295.5 367.5L299.5 371.5L299.5 380.5L295.5 384.5L287.5 384.5L282.5 379.5L282.5 372.5L286.5 369.5L289.5 369.5L290.5 368.5Z" fill="#4bff6e" fill-rule="evenodd" stroke="#000" stroke-width="1"/>
<path d="M94.5 354.5L92.5 356.5L92.5 365.5L93.5 366.5L94.5 371.5L95.5 371.5L95.5 369.5L97.5 365.5L97.5 355.5ZM103.5 355.5L103.5 365.5L104.5 366.5L105.5 371.5L108.5 374.5L110.5 374.5L124.5 388.5L129.5 388.5L130.5 387.5L130.5 379.5L138.5 371.5L138.5 356.5L137.5 355.5L118.5 355.5L113.5 353.5L107.5 353.5ZM198.5 347.5L197.5 348.5L195.5 348.5L195.5 349.5L191.5 352.5L179.5 352.5L178.5 353.5L172.5 353.5L171.5 354.5L168.5 354.5L163.5 356.5L164.5 357.5L164.5 360.5L165.5 361.5L166.5 366.5L171.5 371.5L171.5 380.5L179.5 387.5L179.5 395.5L183.5 399.5L187.5 394.5L194.5 392.5L197.5 388.5L197.5 378.5L198.5 377.5L198.5 372.5L199.5 371.5L199.5 354.5L198.5 353.5ZM308.5 313.5L303.5 312.5L300.5 315.5L299.5 320.5L295.5 328.5L288.5 334.5L286.5 334.5L281.5 331.5L269.5 331.5L266.5 333.5L266.5 336.5L265.5 337.5L265.5 356.5L263.5 360.5L256.5 366.5L254.5 366.5L249.5 363.5L244.5 362.5L239.5 358.5L234.5 356.5L230.5 353.5L226.5 357.5L225.5 364.5L221.5 371.5L221.5 380.5L227.5 388.5L238.5 398.5L246.5 393.5L249.5 393.5L250.5 392.5L255.5 391.5L263.5 399.5L264.5 402.5L270.5 407.5L273.5 407.5L274.5 408.5L289.5 407.5L290.5 408.5L296.5 409.5L300.5 404.5L300.5 395.5L299.5 393.5L296.5 390.5L286.5 389.5L279.5 382.5L276.5 381.5L274.5 379.5L274.5 372.5L276.5 370.5L289.5 364.5L294.5 359.5L295.5 359.5L302.5 366.5L305.5 366.5L308.5 363.5L308.5 361.5L310.5 357.5L310.5 315.5Z" fill="#91ff00" fill-rule="evenodd" stroke="#000" stroke-width="1"/>
<path d="M267.5 387.5L267.5 396.5L270.5 404.5L275.5 405.5L276.5 406.5L281.5 406.5L286.5 404.5L289.5 404.5L290.5 405.5L295.5 405.5L296.5 404.5L296.5 395.5L295.5 394.5L290.5 393.5L289.5 392.5L286.5 392.5L282.5 390.5L279.5 386.5L276.5 386.5L275.5 385.5L270.5 384.5ZM230.5 361.5L229.5 366.5L228.5 367.5L228.5 370.5L227.5 371.5L227.5 379.5L239.5 391.5L240.5 390.5L247.5 389.5L254.5 385.5L256.5 385.5L260.5 381.5L259.5 373.5L256.5 370.5L254.5 370.5L239.5 362.5L236.5 362.5L231.5 360.5ZM127.5 360.5L123.5 363.5L123.5 372.5L126.5 375.5L130.5 371.5L130.5 363.5ZM107.5 355.5L106.5 356.5L106.5 364.5L108.5 366.5L112.5 366.5L114.5 364.5L114.5 356.5L112.5 355.5ZM171.5 356.5L171.5 363.5L175.5 367.5L177.5 371.5L178.5 378.5L188.5 388.5L191.5 389.5L193.5 387.5L193.5 378.5L196.5 372.5L196.5 355.5L195.5 354.5L193.5 354.5L192.5 355.5L190.5 355.5L189.5 354.5L177.5 354.5L176.5 355.5ZM279.5 334.5L272.5 335.5L269.5 339.5L269.5 358.5L268.5 359.5L267.5 364.5L270.5 367.5L281.5 364.5L290.5 355.5L290.5 340.5L288.5 338.5L286.5 338.5ZM302.5 315.5L301.5 327.5L299.5 331.5L299.5 355.5L302.5 358.5L305.5 358.5L307.5 356.5L307.5 316.5L306.5 315.5Z" fill="#fffa00" fill-rule="evenodd" stroke="#000" stroke-width="1"/>
<path d="M275.5 403.5L280.5 404.5L290.5 396.5L285.5 394.5L281.5 394.5L278.5 392.5L275.5 395.5ZM235.5 371.5L235.5 379.5L239.5 383.5L247.5 383.5L248.5 382.5L251.5 382.5L256.5 380.5L255.5 377.5L247.5 370.5L244.5 370.5L243.5 369.5L238.5 368.5ZM181.5 355.5L179.5 356.5L179.5 364.5L180.5 365.5L181.5 372.5L183.5 375.5L186.5 372.5L186.5 356.5ZM279.5 338.5L275.5 340.5L275.5 356.5L278.5 359.5L282.5 355.5L282.5 340.5Z" fill="#ffcd00" fill-rule="evenodd" stroke="#000" stroke-width="1"/>
<path d="M102.5 336.5L102.5 428.5L103.5 429.5L108.5 429.5L109.5 428.5L109.5 337.5L108.5 336.5ZM93.5 328.5L91.5 330.5L91.5 434.5L93.5 436.5L96.5 436.5L98.5 433.5L98.5 331.5L96.5 328.5ZM309.5 296.5L308.5 297.5L308.5 432.5L309.5 433.5L311.5 433.5L311.5 296.5ZM211.5 296.5L211.5 324.5L215.5 327.5L218.5 324.5L218.5 296.5Z" fill="#000" fill-rule="evenodd"/>
<rect x="67.5" y="296.5" width="269" height="189" fill="none" stroke="#000" stroke-width="1"/>
<path d="M67.5 485.5h7M336.5 485.5h-7M67.5 482.5h4M336.5 482.5h-4M67.5 479.5h4M336.5 479.5h-4M67.5 476.5h4M336.5 476.5h-4M67.5 472.5h4M336.5 472.5h-4M67.5 469.5h4M336.5 469.5h-4M67.5 466.5h4M336.5 466.5h-4M67.5 463.5h4M336.5 463.5h-4M67.5 460.5h4M336.5 460.5h-4M67.5 457.5h4M336.5 457.5h-4M67.5 454.5h7M336.5 454.5h-7M67.5 450.5h4M336.5 450.5h-4M67.5 447.5h4M336.5 447.5h-4M67.5 444.5h4M336.5 444.5h-4M67.5 441.5h4M336.5 441.5h-4M67.5 438.5h4M336.5 438.5h-4M67.5 435.5h4M336.5 435.5h-4M67.5 431.5h4M336.5 431.5h-4M67.5 428.5h4M336.5 428.5h-4M67.5 425.5h4M336.5 425.5h-4M67.5 422.5h7M336.5 422.5h-7M67.5 419.5h4M336.5 419.5h-4M67.5 416.5h4M336.5 416.5h-4M67.5 413.5h4M336.5 413.5h-4M67.5 409.5h4M336.5 409.5h-4M67.5 406.5h4M336.5 406.5h-4M67.5 403.5h4M336.5 403.5h-4M67.5 400.5h4M336.5 400.5h-4M67.5 397.5h4M336.5 397.5h-4M67.5 394.5h4M336.5 394.5h-4M67.5 390.5h7M336.5 390.5h-7M67.5 387.5h4M336.5 387.5h-4M67.5 384.5h4M336.5 384.5h-4M67.5 381.5h4M336.5 381.5h-4M67.5 378.5h4M336.5 378.5h-4M67.5 375.5h4M336.5 375.5h-4M67.5 372.5h4M336.5 372.5h-4M67.5 368.5h4M336.5 368.5h-4M67.5 365.5h4M336.5 365.5h-4M67.5 362.5h4M336.5 362.5h-4M67.5 359.5h7M336.5 359.5h-7M67.5 356.5h4M336.5 356.5h-4M67.5 353.5h4M336.5 353.5h-4M67.5 350.5h4M336.5 350.5h-4M67.5 346.5h4M336.5 346.5h-4M67.5 343.5h4M336.5 343.5h-4M67.5 340.5h4M336.5 340.5h-4M67.5 337.5h4M336.5 337.5h-4M67.5 334.5h4M336.5 334.5h-4M67.5 331.5h4M336.5 331.5h-4M67.5 328.5h7M336.5 328.5h-7M67.5 324.5h4M336.5 324.5h-4M67.5 321.5h4M336.5 321.5h-4M67.5 318.5h4M336.5 318.5h-4M67.5 315.5h4M336.5 315.5h-4M67.5 312.5h4M336.5 312.5h-4M67.5 309.5h4M336.5 309.5h-4M67.5 305.5h4M336.5 305.5h-4M67.5 302.5h4M336.5 302.5h-4M67.5 299.5h4M336.5 299.5h-4M67.5 296.5h7M336.5 296.5h-7M67.5 485.5v-4M67.5 296.5v4M134.5 485.5v-4M134.5 296.5v4M202.5 485.5v-4M202.5 296.5v4M269.5 485.5v-4M269.5 296.5v4M336.5 485.5v-4M336.5 296.5v4" stroke="#000" stroke-width="1" fill="none"/>
<text transform="translate(63.5,485.5) scale(0.752,1)" text-anchor="end">60</text>
<text transform="translate(63.5,458.0) scale(0.752,1)" text-anchor="end">70</text>
<text transform="translate(63.5,426.5) scale(0.752,1)" text-anchor="end">80</text>
<text transform="translate(63.5,395.0) scale(0.752,1)" text-anchor="end">90</text>
<text transform="translate(63.5,363.5) scale(0.752,1)" text-anchor="end">100</text>
<text transform="translate(63.5,332.0) scale(0.752,1)" text-anchor="end">110</text>
<text transform="translate(63.5,303.0) scale(0.752,1)" text-anchor="end">120</text>
<text transform="translate(67.5,500) scale(0.752,1)" text-anchor="middle">−90</text>
<text transform="translate(134.75,500) scale(0.752,1)" text-anchor="middle">0</text>
<text transform="translate(202.0,500) scale(0.752,1)" text-anchor="middle">90</text>
<text transform="translate(269.25,500) scale(0.752,1)" text-anchor="middle">0</text>
<text transform="translate(336.5,500) scale(0.752,1)" text-anchor="middle">−90</text>
<text transform="translate(201.5,513) scale(0.752,1)" text-anchor="middle">Lat (deg)</text>
<text transform="translate(201.5,290) scale(0.752,1)" text-anchor="middle">Inverted Winds Meridional (warmside)</text>
<text transform="translate(36,324.5) scale(0.752,1)" text-anchor="middle">A</text>
<text transform="translate(36,334.7) scale(0.752,1)" text-anchor="middle">l</text>
<text transform="translate(36,344.9) scale(0.752,1)" text-anchor="middle">t</text>
<text transform="translate(36,355.1) scale(0.752,1)" text-anchor="middle">i</text>
<text transform="translate(36,365.3) scale(0.752,1)" text-anchor="middle">t</text>
<text transform="translate(36,375.5) scale(0.752,1)" text-anchor="middle">u</text>
<text transform="translate(36,385.7) scale(0.752,1)" text-anchor="middle">d</text>
<text transform="translate(36,395.9) scale(0.752,1)" text-anchor="middle">e</text>
<text transform="translate(36,416.3) scale(0.752,1)" text-anchor="middle">(</text>
<text transform="translate(36,426.5) scale(0.752,1)" text-anchor="middle">k</text>
<text transform="translate(36,436.7) scale(0.752,1)" text-anchor="middle">m</text>
<text transform="translate(36,446.9) scale(0.752,1)" text-anchor="middle">)</text>
<rect x="374" y="475.60" width="28" height="9.70" fill="#28003c"/>
<rect x="374" y="466.20" width="28" height="9.70" fill="#55008c"/>
<rect x="374" y="456.80" width="28" height="9.70" fill="#1e14b9"/>
<rect x="374" y="447.40" width="28" height="9.70" fill="#002dff"/>
<rect x="374" y="438.00" width="28" height="9.70" fill="#0064ff"/>
<rect x="374" y="428.60" width="28" height="9.70" fill="#00aaf5"/>
<rect x="374" y="419.20" width="28" height="9.70" fill="#00cdc8"/>
<rect x="374" y="409.80" width="28" height="9.70" fill="#00e6b9"/>
<rect x="374" y="400.40" width="28" height="9.70" fill="#41eb78"/>
<rect x="374" y="391.00" width="28" height="9.70" fill="#8cfa00"/>
<rect x="374" y="381.60" width="28" height="9.70" fill="#c3fc00"/>
<rect x="374" y="372.20" width="28" height="9.70" fill="#fffa00"/>
<rect x="374" y="362.80" width="28" height="9.70" fill="#ffd400"/>
<rect x="374" y="353.40" width="28" height="9.70" fill="#ffa500"/>
<rect x="374" y="344.00" width="28" height="9.70" fill="#dc7832"/>
<rect x="374" y="334.60" width="28" height="9.70" fill="#c84646"/>
<rect x="374" y="325.20" width="28" height="9.70" fill="#e61e5f"/>
<rect x="374" y="315.80" width="28" height="9.70" fill="#ff006e"/>
<rect x="374" y="306.40" width="28" height="9.70" fill="#ff32c8"/>
<rect x="374" y="297.00" width="28" height="9.70" fill="#ff64ff"/>
<rect x="374.5" y="297.5" width="28" height="188" fill="none" stroke="#000"/>
<path d="M402.5 320.5h-5M402.5 344.5h-5M402.5 368.5h-5M402.5 391.5h-5M402.5 414.5h-5M402.5 438.5h-5M402.5 462.5h-5" stroke="#000" fill="none"/>
<text transform="translate(444,298.8) scale(0.752,1)" text-anchor="end">200.0</text>
<text transform="translate(444,322.3) scale(0.752,1)" text-anchor="end">150.0</text>
<text transform="translate(444,345.8) scale(0.752,1)" text-anchor="end">100.0</text>
<text transform="translate(444,369.3) scale(0.752,1)" text-anchor="end">50.0</text>
<text transform="translate(444,392.8) scale(0.752,1)" text-anchor="end">0.0</text>
<text transform="translate(444,416.3) scale(0.752,1)" text-anchor="end">−50.0</text>
<text transform="translate(444,439.8) scale(0.752,1)" text-anchor="end">−100.0</text>
<text transform="translate(444,463.3) scale(0.752,1)" text-anchor="end">−150.0</text>
<text transform="translate(444,486.8) scale(0.752,1)" text-anchor="end">−200.0</text>
<path d="M584.5 329.5L582.5 331.5L582.5 433.5L585.5 436.5L626.5 436.5L629.5 433.5L629.5 431.5L631.5 428.5L677.5 428.5L680.5 424.5L680.5 333.5L679.5 332.5L679.5 330.5L675.5 328.5L587.5 328.5L586.5 329.5ZM573.5 328.5L571.5 330.5L571.5 434.5L573.5 436.5L576.5 436.5L578.5 433.5L578.5 331.5L576.5 328.5ZM691.5 296.5L691.5 328.5L690.5 329.5L685.5 330.5L683.5 333.5L683.5 424.5L684.5 426.5L687.5 428.5L771.5 428.5L772.5 429.5L773.5 434.5L775.5 436.5L788.5 436.5L790.5 435.5L791.5 433.5L791.5 296.5Z" fill="#28003c" fill-rule="evenodd"/>
<path d="M574.5 340.5L572.5 342.5L572.5 344.5L571.5 345.5L571.5 416.5L573.5 419.5L576.5 419.5L578.5 417.5L578.5 343.5L577.5 341.5ZM585.5 333.5L585.5 338.5L582.5 343.5L582.5 417.5L584.5 419.5L584.5 428.5L586.5 433.5L589.5 433.5L590.5 434.5L624.5 434.5L628.5 431.5L630.5 427.5L633.5 427.5L634.5 426.5L676.5 426.5L680.5 422.5L680.5 335.5L676.5 332.5L587.5 332.5ZM691.5 296.5L691.5 328.5L690.5 329.5L685.5 330.5L683.5 333.5L683.5 422.5L686.5 425.5L688.5 425.5L689.5 426.5L768.5 426.5L769.5 427.5L771.5 427.5L773.5 429.5L774.5 432.5L777.5 434.5L784.5 434.5L785.5 433.5L788.5 433.5L791.5 426.5L791.5 296.5Z" fill="#55008c" fill-rule="evenodd" stroke="#000" stroke-width="1"/>
<path d="M574.5 342.5L571.5 348.5L571.5 414.5L572.5 416.5L575.5 418.5L578.5 416.5L578.5 345.5L577.5 343.5ZM679.5 336.5L672.5 334.5L671.5 335.5L626.5 335.5L622.5 337.5L615.5 337.5L611.5 335.5L589.5 335.5L587.5 337.5L587.5 339.5L582.5 345.5L582.5 416.5L585.5 419.5L585.5 421.5L586.5 422.5L586.5 427.5L588.5 431.5L590.5 431.5L591.5 432.5L622.5 432.5L623.5 431.5L625.5 431.5L627.5 428.5L631.5 425.5L637.5 425.5L638.5 424.5L675.5 424.5L678.5 422.5L679.5 417.5L680.5 416.5L680.5 338.5ZM691.5 296.5L691.5 328.5L690.5 329.5L688.5 329.5L686.5 331.5L683.5 337.5L683.5 416.5L684.5 417.5L685.5 422.5L689.5 424.5L768.5 424.5L772.5 426.5L777.5 432.5L786.5 431.5L788.5 429.5L791.5 423.5L791.5 296.5Z" fill="#1e14b9" fill-rule="evenodd" stroke="#000" stroke-width="1"/>
<path d="M574.5 344.5L571.5 350.5L571.5 412.5L573.5 416.5L575.5 417.5L578.5 415.5L578.5 347.5L577.5 345.5ZM678.5 338.5L676.5 338.5L675.5 337.5L673.5 338.5L630.5 338.5L623.5 342.5L614.5 342.5L607.5 338.5L591.5 338.5L583.5 345.5L582.5 347.5L582.5 415.5L587.5 420.5L587.5 423.5L591.5 429.5L622.5 429.5L631.5 423.5L637.5 423.5L638.5 422.5L674.5 422.5L676.5 421.5L680.5 410.5L680.5 342.5ZM691.5 296.5L691.5 329.5L688.5 331.5L683.5 341.5L683.5 410.5L684.5 411.5L686.5 419.5L690.5 421.5L767.5 421.5L769.5 423.5L772.5 424.5L776.5 428.5L782.5 429.5L787.5 426.5L791.5 421.5L791.5 296.5Z" fill="#0032ff" fill-rule="evenodd" stroke="#000" stroke-width="1"/>
<path d="M575.5 346.5L571.5 352.5L571.5 410.5L572.5 411.5L572.5 413.5L575.5 416.5L578.5 414.5L578.5 349.5L577.5 347.5ZM678.5 343.5L676.5 341.5L673.5 341.5L672.5 342.5L636.5 342.5L625.5 346.5L614.5 346.5L607.5 342.5L591.5 342.5L583.5 347.5L582.5 349.5L582.5 414.5L589.5 420.5L590.5 424.5L591.5 425.5L622.5 425.5L632.5 420.5L672.5 420.5L674.5 419.5L677.5 414.5L677.5 411.5L680.5 406.5L680.5 348.5ZM691.5 296.5L691.5 320.5L692.5 321.5L692.5 329.5L688.5 334.5L687.5 339.5L684.5 342.5L684.5 344.5L683.5 345.5L683.5 406.5L685.5 410.5L689.5 414.5L691.5 414.5L692.5 415.5L719.5 415.5L724.5 417.5L729.5 417.5L734.5 415.5L739.5 416.5L740.5 417.5L767.5 417.5L773.5 423.5L778.5 425.5L783.5 425.5L787.5 423.5L790.5 420.5L790.5 411.5L791.5 410.5L791.5 296.5Z" fill="#0069ff" fill-rule="evenodd" stroke="#000" stroke-width="1"/>
<path d="M575.5 348.5L571.5 355.5L571.5 408.5L573.5 413.5L574.5 414.5L577.5 414.5L578.5 413.5L578.5 353.5ZM584.5 349.5L582.5 353.5L582.5 413.5L587.5 416.5L591.5 421.5L623.5 421.5L629.5 418.5L670.5 418.5L674.5 415.5L677.5 409.5L677.5 407.5L680.5 402.5L680.5 352.5L676.5 347.5L674.5 346.5L638.5 346.5L631.5 350.5L614.5 350.5L607.5 346.5L590.5 346.5ZM691.5 296.5L691.5 315.5L692.5 316.5L692.5 320.5L693.5 321.5L693.5 331.5L690.5 334.5L689.5 339.5L685.5 344.5L683.5 349.5L683.5 402.5L685.5 406.5L689.5 409.5L693.5 409.5L694.5 410.5L715.5 409.5L716.5 410.5L721.5 410.5L726.5 413.5L732.5 410.5L737.5 410.5L742.5 413.5L768.5 413.5L772.5 416.5L773.5 419.5L775.5 421.5L783.5 421.5L784.5 420.5L786.5 420.5L787.5 419.5L787.5 412.5L791.5 406.5L791.5 296.5Z" fill="#00afff" fill-rule="evenodd" stroke="#000" stroke-width="1"/>
<path d="M575.5 352.5L572.5 355.5L572.5 358.5L571.5 359.5L571.5 406.5L574.5 413.5L578.5 412.5L578.5 359.5L577.5 358.5L577.5 355.5ZM584.5 353.5L583.5 358.5L582.5 359.5L582.5 412.5L588.5 415.5L591.5 418.5L624.5 418.5L629.5 416.5L642.5 416.5L643.5 415.5L671.5 415.5L673.5 413.5L677.5 405.5L677.5 403.5L680.5 398.5L680.5 357.5L676.5 351.5L674.5 351.5L673.5 350.5L644.5 350.5L633.5 354.5L614.5 354.5L607.5 350.5L589.5 350.5L588.5 351.5L586.5 351.5ZM692.5 297.5L691.5 310.5L692.5 311.5L692.5 317.5L695.5 323.5L695.5 331.5L693.5 333.5L688.5 344.5L685.5 347.5L684.5 354.5L683.5 355.5L683.5 398.5L685.5 402.5L688.5 405.5L693.5 407.5L705.5 407.5L706.5 406.5L711.5 405.5L712.5 406.5L721.5 407.5L726.5 409.5L731.5 408.5L732.5 407.5L737.5 407.5L738.5 408.5L747.5 409.5L748.5 410.5L761.5 409.5L766.5 407.5L775.5 407.5L780.5 409.5L787.5 408.5L789.5 406.5L790.5 401.5L791.5 400.5L791.5 296.5L706.5 296.5L705.5 297.5Z" fill="#00cdd7" fill-rule="evenodd" stroke="#000" stroke-width="1"/>
<path d="M574.5 356.5L574.5 358.5L572.5 362.5L572.5 374.5L571.5 375.5L571.5 404.5L573.5 407.5L574.5 412.5L576.5 412.5L578.5 408.5L578.5 375.5L577.5 374.5L577.5 362.5L576.5 361.5L575.5 356.5ZM585.5 356.5L585.5 358.5L583.5 362.5L583.5 374.5L582.5 375.5L582.5 408.5L584.5 412.5L590.5 415.5L594.5 415.5L595.5 416.5L616.5 417.5L617.5 416.5L624.5 416.5L629.5 414.5L641.5 414.5L646.5 412.5L671.5 412.5L673.5 409.5L679.5 396.5L679.5 385.5L680.5 384.5L680.5 360.5L676.5 355.5L674.5 355.5L673.5 354.5L646.5 354.5L639.5 360.5L630.5 360.5L625.5 358.5L614.5 358.5L607.5 354.5L589.5 354.5ZM694.5 300.5L694.5 302.5L692.5 306.5L692.5 309.5L693.5 310.5L693.5 317.5L696.5 322.5L696.5 332.5L690.5 344.5L686.5 349.5L686.5 352.5L685.5 353.5L684.5 360.5L683.5 361.5L683.5 381.5L684.5 382.5L684.5 396.5L685.5 398.5L693.5 404.5L705.5 404.5L710.5 399.5L711.5 399.5L716.5 404.5L721.5 404.5L722.5 405.5L737.5 404.5L738.5 405.5L743.5 405.5L748.5 407.5L757.5 406.5L766.5 401.5L775.5 401.5L782.5 405.5L787.5 404.5L788.5 403.5L788.5 401.5L790.5 397.5L790.5 393.5L791.5 392.5L791.5 296.5L728.5 296.5L727.5 297.5L709.5 297.5L702.5 300.5Z" fill="#00dec3" fill-rule="evenodd" stroke="#000" stroke-width="1"/>
<path d="M574.5 372.5L574.5 374.5L572.5 378.5L572.5 404.5L574.5 406.5L575.5 411.5L575.5 409.5L577.5 405.5L577.5 378.5L576.5 377.5L575.5 372.5ZM586.5 363.5L586.5 371.5L583.5 378.5L583.5 405.5L584.5 406.5L585.5 411.5L595.5 413.5L596.5 414.5L602.5 414.5L603.5 415.5L618.5 415.5L619.5 414.5L624.5 414.5L629.5 412.5L640.5 412.5L644.5 410.5L664.5 410.5L665.5 409.5L670.5 409.5L677.5 396.5L677.5 386.5L678.5 385.5L679.5 375.5L680.5 374.5L680.5 363.5L677.5 359.5L672.5 359.5L671.5 360.5L669.5 360.5L665.5 358.5L660.5 358.5L655.5 360.5L647.5 360.5L640.5 366.5L630.5 366.5L623.5 362.5L614.5 362.5L607.5 358.5L604.5 358.5L599.5 360.5L591.5 360.5L590.5 361.5L588.5 361.5ZM697.5 305.5L694.5 309.5L694.5 317.5L698.5 323.5L698.5 331.5L692.5 345.5L689.5 348.5L689.5 351.5L687.5 354.5L687.5 360.5L685.5 363.5L685.5 373.5L686.5 374.5L686.5 380.5L687.5 381.5L687.5 396.5L691.5 397.5L694.5 399.5L702.5 399.5L710.5 391.5L711.5 391.5L719.5 399.5L735.5 399.5L736.5 400.5L743.5 401.5L748.5 404.5L753.5 404.5L760.5 398.5L763.5 398.5L764.5 397.5L777.5 397.5L778.5 398.5L785.5 398.5L788.5 395.5L788.5 393.5L790.5 389.5L790.5 385.5L791.5 384.5L791.5 296.5L731.5 296.5L726.5 300.5L710.5 300.5L708.5 302.5L702.5 305.5Z" fill="#00eba5" fill-rule="evenodd" stroke="#000" stroke-width="1"/>
<path d="M586.5 379.5L586.5 404.5L588.5 406.5L590.5 406.5L597.5 412.5L600.5 412.5L601.5 413.5L620.5 413.5L621.5 412.5L624.5 412.5L629.5 410.5L638.5 410.5L645.5 407.5L649.5 407.5L650.5 408.5L659.5 408.5L660.5 407.5L665.5 407.5L671.5 404.5L671.5 401.5L673.5 396.5L673.5 387.5L675.5 385.5L678.5 377.5L678.5 373.5L679.5 372.5L679.5 364.5L678.5 362.5L676.5 362.5L670.5 366.5L662.5 362.5L649.5 373.5L646.5 374.5L640.5 370.5L630.5 370.5L623.5 366.5L612.5 365.5L606.5 362.5L599.5 366.5L597.5 366.5L594.5 369.5L591.5 376.5L590.5 377.5L588.5 377.5ZM695.5 315.5L699.5 320.5L699.5 334.5L696.5 340.5L696.5 342.5L693.5 347.5L692.5 357.5L695.5 359.5L699.5 363.5L699.5 364.5L692.5 370.5L692.5 389.5L694.5 391.5L695.5 391.5L702.5 383.5L711.5 383.5L719.5 391.5L735.5 391.5L740.5 396.5L751.5 401.5L756.5 396.5L757.5 393.5L759.5 391.5L782.5 391.5L783.5 390.5L785.5 390.5L788.5 387.5L788.5 385.5L790.5 381.5L790.5 369.5L791.5 368.5L791.5 296.5L733.5 296.5L727.5 302.5L720.5 302.5L714.5 305.5L713.5 307.5L713.5 316.5L711.5 319.5L710.5 319.5L703.5 312.5L697.5 313.5ZM758.5 335.5L759.5 335.5L763.5 339.5L763.5 348.5L759.5 352.5L758.5 352.5L754.5 348.5L754.5 339.5ZM735.5 329.5L739.5 332.5L739.5 340.5L735.5 344.5L732.5 340.5L733.5 331.5Z" fill="#4bff6e" fill-rule="evenodd" stroke="#000" stroke-width="1"/>
<path d="M593.5 379.5L593.5 398.5L594.5 399.5L594.5 402.5L603.5 411.5L605.5 412.5L616.5 412.5L617.5 411.5L620.5 411.5L621.5 410.5L624.5 410.5L629.5 408.5L639.5 407.5L646.5 404.5L651.5 405.5L652.5 406.5L657.5 406.5L658.5 405.5L665.5 404.5L666.5 403.5L666.5 387.5L673.5 380.5L676.5 370.5L668.5 370.5L663.5 368.5L655.5 376.5L650.5 377.5L649.5 378.5L646.5 378.5L639.5 374.5L628.5 373.5L621.5 369.5L612.5 368.5L611.5 367.5L606.5 366.5L598.5 370.5ZM790.5 297.5L738.5 296.5L737.5 297.5L734.5 297.5L729.5 303.5L724.5 305.5L721.5 305.5L717.5 307.5L717.5 318.5L716.5 319.5L716.5 322.5L713.5 325.5L710.5 325.5L703.5 318.5L702.5 318.5L701.5 320.5L701.5 332.5L700.5 333.5L700.5 337.5L699.5 338.5L699.5 355.5L703.5 359.5L705.5 363.5L705.5 366.5L706.5 367.5L707.5 372.5L719.5 383.5L727.5 383.5L734.5 375.5L738.5 375.5L739.5 376.5L739.5 387.5L748.5 396.5L750.5 397.5L752.5 396.5L752.5 393.5L753.5 392.5L754.5 387.5L762.5 380.5L762.5 376.5L763.5 375.5L767.5 375.5L774.5 383.5L782.5 383.5L783.5 382.5L785.5 382.5L787.5 380.5L787.5 372.5L790.5 365.5L790.5 321.5L791.5 320.5L791.5 303.5L790.5 302.5ZM758.5 367.5L759.5 367.5L763.5 371.5L763.5 375.5L762.5 376.5L758.5 376.5L754.5 372.5L754.5 371.5ZM743.5 367.5L747.5 371.5L747.5 372.5L743.5 376.5L739.5 376.5L738.5 375.5L738.5 371.5L742.5 367.5ZM734.5 325.5L741.5 326.5L744.5 328.5L747.5 328.5L748.5 329.5L760.5 329.5L767.5 335.5L769.5 339.5L769.5 348.5L767.5 352.5L759.5 360.5L735.5 360.5L733.5 358.5L732.5 353.5L731.5 352.5L731.5 349.5L729.5 346.5L728.5 339.5L729.5 338.5L730.5 331.5Z" fill="#91ff00" fill-rule="evenodd" stroke="#000" stroke-width="1"/>
<path d="M597.5 379.5L597.5 396.5L598.5 398.5L608.5 408.5L617.5 409.5L618.5 408.5L624.5 408.5L629.5 406.5L633.5 406.5L634.5 405.5L637.5 405.5L642.5 403.5L646.5 399.5L653.5 404.5L658.5 403.5L658.5 387.5L655.5 384.5L646.5 384.5L641.5 379.5L637.5 377.5L629.5 376.5L628.5 375.5L620.5 373.5L617.5 371.5L612.5 371.5L611.5 370.5L606.5 370.5L604.5 371.5ZM702.5 323.5L702.5 342.5L705.5 347.5L705.5 350.5L706.5 351.5L706.5 354.5L708.5 357.5L709.5 364.5L710.5 366.5L719.5 375.5L726.5 375.5L730.5 371.5L730.5 363.5L729.5 362.5L728.5 355.5L724.5 348.5L724.5 345.5L723.5 344.5L722.5 339.5L727.5 334.5L728.5 326.5L730.5 324.5L730.5 315.5L734.5 311.5L736.5 313.5L737.5 317.5L741.5 321.5L743.5 321.5L750.5 325.5L760.5 325.5L766.5 319.5L769.5 323.5L770.5 330.5L772.5 333.5L772.5 336.5L773.5 337.5L773.5 350.5L771.5 355.5L771.5 364.5L774.5 367.5L782.5 367.5L783.5 366.5L785.5 366.5L787.5 364.5L787.5 324.5L790.5 317.5L790.5 306.5L789.5 305.5L788.5 300.5L767.5 300.5L760.5 297.5L741.5 297.5L740.5 298.5L735.5 299.5L734.5 302.5L730.5 306.5L723.5 308.5L723.5 324.5L719.5 328.5L709.5 328.5L707.5 327.5L704.5 323.5Z" fill="#fffa00" fill-rule="evenodd" stroke="#000" stroke-width="1"/>
<path d="M603.5 380.5L603.5 395.5L612.5 404.5L617.5 405.5L618.5 406.5L624.5 406.5L625.5 405.5L628.5 405.5L629.5 404.5L634.5 403.5L635.5 402.5L635.5 399.5L636.5 398.5L637.5 393.5L642.5 388.5L633.5 379.5L630.5 379.5L623.5 376.5L607.5 376.5ZM708.5 331.5L707.5 332.5L707.5 340.5L708.5 341.5L709.5 348.5L715.5 355.5L715.5 363.5L719.5 367.5L722.5 364.5L722.5 355.5L721.5 354.5L720.5 347.5L714.5 340.5L714.5 332.5L713.5 331.5ZM785.5 305.5L773.5 305.5L771.5 307.5L771.5 316.5L772.5 317.5L773.5 324.5L775.5 327.5L783.5 318.5L785.5 318.5L787.5 316.5L787.5 307.5ZM740.5 302.5L739.5 308.5L740.5 309.5L740.5 312.5L742.5 317.5L745.5 317.5L750.5 319.5L758.5 319.5L762.5 315.5L762.5 305.5L761.5 304.5L761.5 302.5L759.5 300.5L742.5 300.5Z" fill="#ffcd00" fill-rule="evenodd" stroke="#000" stroke-width="1"/>
<path d="M620.5 379.5L611.5 387.5L611.5 395.5L619.5 403.5L624.5 404.5L631.5 398.5L632.5 393.5L633.5 392.5L633.5 389.5L634.5 388.5L626.5 380.5L624.5 379.5ZM749.5 305.5L747.5 308.5L751.5 311.5L754.5 307.5L752.5 305.5Z" fill="#ffa500" fill-rule="evenodd" stroke="#000" stroke-width="1"/>
<path d="M582.5 336.5L582.5 428.5L583.5 429.5L588.5 429.5L589.5 428.5L589.5 337.5L588.5 336.5ZM573.5 328.5L571.5 330.5L571.5 434.5L573.5 436.5L576.5 436.5L578.5 433.5L578.5 331.5L576.5 328.5ZM789.5 296.5L788.5 297.5L788.5 432.5L789.5 433.5L791.5 433.5L791.5 296.5ZM691.5 296.5L691.5 324.5L695.5 327.5L698.5 324.5L698.5 296.5Z" fill="#000" fill-rule="evenodd"/>
<rect x="547.5" y="296.5" width="269" height="189" fill="none" stroke="#000" stroke-width="1"/>
<path d="M547.5 485.5h7M816.5 485.5h-7M547.5 482.5h4M816.5 482.5h-4M547.5 479.5h4M816.5 479.5h-4M547.5 476.5h4M816.5 476.5h-4M547.5 472.5h4M816.5 472.5h-4M547.5 469.5h4M816.5 469.5h-4M547.5 466.5h4M816.5 466.5h-4M547.5 463.5h4M816.5 463.5h-4M547.5 460.5h4M816.5 460.5h-4M547.5 457.5h4M816.5 457.5h-4M547.5 454.5h7M816.5 454.5h-7M547.5 450.5h4M816.5 450.5h-4M547.5 447.5h4M816.5 447.5h-4M547.5 444.5h4M816.5 444.5h-4M547.5 441.5h4M816.5 441.5h-4M547.5 438.5h4M816.5 438.5h-4M547.5 435.5h4M816.5 435.5h-4M547.5 431.5h4M816.5 431.5h-4M547.5 428.5h4M816.5 428.5h-4M547.5 425.5h4M816.5 425.5h-4M547.5 422.5h7M816.5 422.5h-7M547.5 419.5h4M816.5 419.5h-4M547.5 416.5h4M816.5 416.5h-4M547.5 413.5h4M816.5 413.5h-4M547.5 409.5h4M816.5 409.5h-4M547.5 406.5h4M816.5 406.5h-4M547.5 403.5h4M816.5 403.5h-4M547.5 400.5h4M816.5 400.5h-4M547.5 397.5h4M816.5 397.5h-4M547.5 394.5h4M816.5 394.5h-4M547.5 390.5h7M816.5 390.5h-7M547.5 387.5h4M816.5 387.5h-4M547.5 384.5h4M816.5 384.5h-4M547.5 381.5h4M816.5 381.5h-4M547.5 378.5h4M816.5 378.5h-4M547.5 375.5h4M816.5 375.5h-4M547.5 372.5h4M816.5 372.5h-4M547.5 368.5h4M816.5 368.5h-4M547.5 365.5h4M816.5 365.5h-4M547.5 362.5h4M816.5 362.5h-4M547.5 359.5h7M816.5 359.5h-7M547.5 356.5h4M816.5 356.5h-4M547.5 353.5h4M816.5 353.5h-4M547.5 350.5h4M816.5 350.5h-4M547.5 346.5h4M816.5 346.5h-4M547.5 343.5h4M816.5 343.5h-4M547.5 340.5h4M816.5 340.5h-4M547.5 337.5h4M816.5 337.5h-4M547.5 334.5h4M816.5 334.5h-4M547.5 331.5h4M816.5 331.5h-4M547.5 328.5h7M816.5 328.5h-7M547.5 324.5h4M816.5 324.5h-4M547.5 321.5h4M816.5 321.5h-4M547.5 318.5h4M816.5 318.5h-4M547.5 315.5h4M816.5 315.5h-4M547.5 312.5h4M816.5 312.5h-4M547.5 309.5h4M816.5 309.5h-4M547.5 305.5h4M816.5 305.5h-4M547.5 302.5h4M816.5 302.5h-4M547.5 299.5h4M816.5 299.5h-4M547.5 296.5h7M816.5 296.5h-7M547.5 485.5v-4M547.5 296.5v4M614.5 485.5v-4M614.5 296.5v4M682.5 485.5v-4M682.5 296.5v4M749.5 485.5v-4M749.5 296.5v4M816.5 485.5v-4M816.5 296.5v4" stroke="#000" stroke-width="1" fill="none"/>
<text transform="translate(543.5,485.5) scale(0.752,1)" text-anchor="end">60</text>
<text transform="translate(543.5,458.0) scale(0.752,1)" text-anchor="end">70</text>
<text transform="translate(543.5,426.5) scale(0.752,1)" text-anchor="end">80</text>
<text transform="translate(543.5,395.0) scale(0.752,1)" text-anchor="end">90</text>
<text transform="translate(543.5,363.5) scale(0.752,1)" text-anchor="end">100</text>
<text transform="translate(543.5,332.0) scale(0.752,1)" text-anchor="end">110</text>
<text transform="translate(543.5,303.0) scale(0.752,1)" text-anchor="end">120</text>
<text transform="translate(547.5,500) scale(0.752,1)" text-anchor="middle">−90</text>
<text transform="translate(614.75,500) scale(0.752,1)" text-anchor="middle">0</text>
<text transform="translate(682.0,500) scale(0.752,1)" text-anchor="middle">90</text>
<text transform="translate(749.25,500) scale(0.752,1)" text-anchor="middle">0</text>
<text transform="translate(816.5,500) scale(0.752,1)" text-anchor="middle">−90</text>
<text transform="translate(681.5,513) scale(0.752,1)" text-anchor="middle">Lat (deg)</text>
<text transform="translate(681.5,290) scale(0.752,1)" text-anchor="middle">Inverted Winds Zonal (warmside)</text>
<text transform="translate(516,324.5) scale(0.752,1)" text-anchor="middle">A</text>
<text transform="translate(516,334.7) scale(0.752,1)" text-anchor="middle">l</text>
<text transform="translate(516,344.9) scale(0.752,1)" text-anchor="middle">t</text>
<text transform="translate(516,355.1) scale(0.752,1)" text-anchor="middle">i</text>
<text transform="translate(516,365.3) scale(0.752,1)" text-anchor="middle">t</text>
<text transform="translate(516,375.5) scale(0.752,1)" text-anchor="middle">u</text>
<text transform="translate(516,385.7) scale(0.752,1)" text-anchor="middle">d</text>
<text transform="translate(516,395.9) scale(0.752,1)" text-anchor="middle">e</text>
<text transform="translate(516,416.3) scale(0.752,1)" text-anchor="middle">(</text>
<text transform="translate(516,426.5) scale(0.752,1)" text-anchor="middle">k</text>
<text transform="translate(516,436.7) scale(0.752,1)" text-anchor="middle">m</text>
<text transform="translate(516,446.9) scale(0.752,1)" text-anchor="middle">)</text>
<rect x="854" y="475.60" width="28" height="9.70" fill="#28003c"/>
<rect x="854" y="466.20" width="28" height="9.70" fill="#55008c"/>
<rect x="854" y="456.80" width="28" height="9.70" fill="#1e14b9"/>
<rect x="854" y="447.40" width="28" height="9.70" fill="#002dff"/>
<rect x="854" y="438.00" width="28" height="9.70" fill="#0064ff"/>
<rect x="854" y="428.60" width="28" height="9.70" fill="#00aaf5"/>
<rect x="854" y="419.20" width="28" height="9.70" fill="#00cdc8"/>
<rect x="854" y="409.80" width="28" height="9.70" fill="#00e6b9"/>
<rect x="854" y="400.40" width="28" height="9.70" fill="#41eb78"/>
<rect x="854" y="391.00" width="28" height="9.70" fill="#8cfa00"/>
<rect x="854" y="381.60" width="28" height="9.70" fill="#c3fc00"/>
<rect x="854" y="372.20" width="28" height="9.70" fill="#fffa00"/>
<rect x="854" y="362.80" width="28" height="9.70" fill="#ffd400"/>
<rect x="854" y="353.40" width="28" height="9.70" fill="#ffa500"/>
<rect x="854" y="344.00" width="28" height="9.70" fill="#dc7832"/>
<rect x="854" y="334.60" width="28" height="9.70" fill="#c84646"/>
<rect x="854" y="325.20" width="28" height="9.70" fill="#e61e5f"/>
<rect x="854" y="315.80" width="28" height="9.70" fill="#ff006e"/>
<rect x="854" y="306.40" width="28" height="9.70" fill="#ff32c8"/>
<rect x="854" y="297.00" width="28" height="9.70" fill="#ff64ff"/>
<rect x="854.5" y="297.5" width="28" height="188" fill="none" stroke="#000"/>
<path d="M882.5 320.5h-5M882.5 344.5h-5M882.5 368.5h-5M882.5 391.5h-5M882.5 414.5h-5M882.5 438.5h-5M882.5 462.5h-5" stroke="#000" fill="none"/>
<text transform="translate(924,298.8) scale(0.752,1)" text-anchor="end">200.0</text>
<text transform="translate(924,322.3) scale(0.752,1)" text-anchor="end">150.0</text>
<text transform="translate(924,345.8) scale(0.752,1)" text-anchor="end">100.0</text>
<text transform="translate(924,369.3) scale(0.752,1)" text-anchor="end">50.0</text>
<text transform="translate(924,392.8) scale(0.752,1)" text-anchor="end">0.0</text>
<text transform="translate(924,416.3) scale(0.752,1)" text-anchor="end">−50.0</text>
<text transform="translate(924,439.8) scale(0.752,1)" text-anchor="end">−100.0</text>
<text transform="translate(924,463.3) scale(0.752,1)" text-anchor="end">−150.0</text>
<text transform="translate(924,486.8) scale(0.752,1)" text-anchor="end">−200.0</text>
<text transform="translate(576.5,525) scale(0.752,1)" text-anchor="start">2013073v01 Wed Aug 10 09:51:23 2016</text>
</svg></body></html>
